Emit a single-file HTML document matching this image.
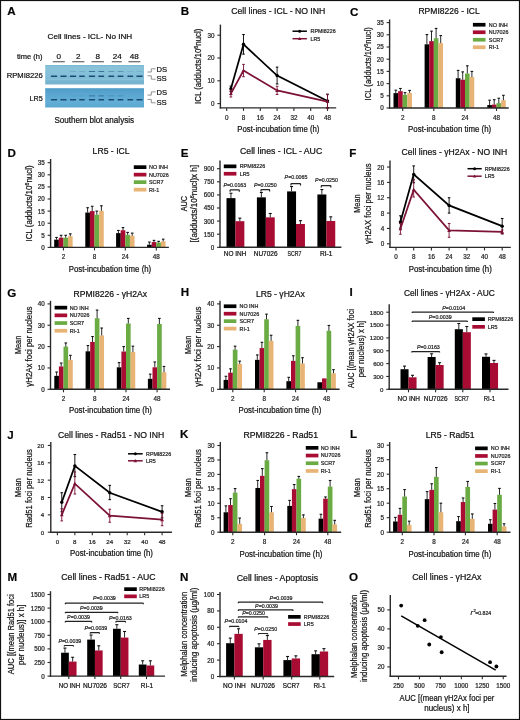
<!DOCTYPE html>
<html><head><meta charset="utf-8"><title>Figure</title>
<style>html,body{margin:0;padding:0;background:#fff;width:520px;height:720px;overflow:hidden}
svg{display:block;will-change:transform} text{font-family:"Liberation Sans",sans-serif;stroke:#2a2a2a;stroke-width:0.22px}</style></head>
<body>
<svg width="520" height="720" viewBox="0 0 520 720" font-family="Liberation Sans, sans-serif">
<rect x="0.00" y="0.00" width="520.00" height="720.00" fill="#ffffff"/>
<text x="7.30" y="15.20" font-size="11.6" font-weight="bold" fill="#000">A</text>
<text x="89.90" y="38.90" font-size="7.7" text-anchor="middle" textLength="84.60" lengthAdjust="spacingAndGlyphs">Cell lines - ICL- No INH</text>
<text x="17.00" y="58.90" font-size="7.5" textLength="25.40" lengthAdjust="spacingAndGlyphs">time (h)</text>
<text x="58.80" y="58.70" font-size="8.1" text-anchor="middle">0</text>
<text x="78.20" y="58.70" font-size="8.1" text-anchor="middle">2</text>
<text x="97.80" y="58.70" font-size="8.1" text-anchor="middle">8</text>
<text x="117.20" y="58.70" font-size="8.1" text-anchor="middle">24</text>
<text x="134.20" y="58.70" font-size="8.1" text-anchor="middle">48</text>
<line x1="52.80" y1="61.70" x2="64.80" y2="61.70" stroke="#666" stroke-width="1.2"/>
<line x1="72.20" y1="61.70" x2="84.40" y2="61.70" stroke="#666" stroke-width="1.2"/>
<line x1="91.60" y1="61.70" x2="103.90" y2="61.70" stroke="#666" stroke-width="1.2"/>
<line x1="111.80" y1="61.70" x2="121.80" y2="61.70" stroke="#666" stroke-width="1.2"/>
<line x1="128.40" y1="61.70" x2="140.40" y2="61.70" stroke="#666" stroke-width="1.2"/>
<defs><linearGradient id="bu" x1="0" y1="0" x2="0" y2="1"><stop offset="0" stop-color="#78b8d2"/><stop offset="0.1" stop-color="#88c3d9"/><stop offset="0.45" stop-color="#84c0d8"/><stop offset="0.7" stop-color="#7fbbd5"/><stop offset="0.75" stop-color="#88c2d9"/><stop offset="0.8" stop-color="#7ab6d1"/><stop offset="1" stop-color="#76b2cf"/></linearGradient><linearGradient id="bl" x1="0" y1="0" x2="0" y2="1"><stop offset="0" stop-color="#4e9cc8"/><stop offset="0.35" stop-color="#5ba7d1"/><stop offset="0.7" stop-color="#62aed6"/><stop offset="1" stop-color="#5aa7d0"/></linearGradient></defs>
<rect x="45.2" y="65.0" width="98.8" height="19.5" fill="url(#bu)"/>
<rect x="45.2" y="88.2" width="98.8" height="19.3" fill="url(#bl)"/>
<rect x="50.80" y="75.5" width="6.40" height="1.4" rx="0.6" fill="#1a4a72"/>
<rect x="50.80" y="99.1" width="6.40" height="1.35" rx="0.6" fill="#1b4b72"/>
<rect x="60.30" y="75.5" width="6.40" height="1.4" rx="0.6" fill="#1a4a72"/>
<rect x="60.30" y="99.1" width="6.40" height="1.35" rx="0.6" fill="#1b4b72"/>
<rect x="69.80" y="75.5" width="6.40" height="1.4" rx="0.6" fill="#1a4a72"/>
<rect x="69.80" y="99.1" width="6.40" height="1.35" rx="0.6" fill="#1b4b72"/>
<rect x="69.80" y="71.0" width="6.40" height="1.1" rx="0.5" fill="#1d5279" opacity="0.18"/>
<rect x="69.80" y="95.3" width="6.40" height="1.1" rx="0.5" fill="#1d5279" opacity="0.06"/>
<rect x="79.10" y="75.5" width="5.80" height="1.4" rx="0.6" fill="#1a4a72"/>
<rect x="79.10" y="99.1" width="5.80" height="1.35" rx="0.6" fill="#1b4b72"/>
<rect x="79.10" y="71.0" width="5.80" height="1.1" rx="0.5" fill="#1d5279" opacity="0.18"/>
<rect x="79.10" y="95.3" width="5.80" height="1.1" rx="0.5" fill="#1d5279" opacity="0.06"/>
<rect x="88.80" y="75.5" width="6.40" height="1.4" rx="0.6" fill="#1a4a72"/>
<rect x="88.80" y="99.1" width="6.40" height="1.35" rx="0.6" fill="#1b4b72"/>
<rect x="88.80" y="71.0" width="6.40" height="1.1" rx="0.5" fill="#1d5279" opacity="0.7"/>
<rect x="88.80" y="95.3" width="6.40" height="1.1" rx="0.5" fill="#1d5279" opacity="0.45"/>
<rect x="98.30" y="75.5" width="5.90" height="1.4" rx="0.6" fill="#1a4a72"/>
<rect x="98.30" y="99.1" width="5.90" height="1.35" rx="0.6" fill="#1b4b72"/>
<rect x="98.30" y="71.0" width="5.90" height="1.1" rx="0.5" fill="#1d5279" opacity="0.7"/>
<rect x="98.30" y="95.3" width="5.90" height="1.1" rx="0.5" fill="#1d5279" opacity="0.45"/>
<rect x="108.30" y="75.5" width="5.90" height="1.4" rx="0.6" fill="#1a4a72"/>
<rect x="108.30" y="99.1" width="5.90" height="1.35" rx="0.6" fill="#1b4b72"/>
<rect x="108.30" y="71.0" width="5.90" height="1.1" rx="0.5" fill="#1d5279" opacity="0.4"/>
<rect x="108.30" y="95.3" width="5.90" height="1.1" rx="0.5" fill="#1d5279" opacity="0.22"/>
<rect x="117.50" y="75.5" width="6.00" height="1.4" rx="0.6" fill="#1a4a72"/>
<rect x="117.50" y="99.1" width="6.00" height="1.35" rx="0.6" fill="#1b4b72"/>
<rect x="117.50" y="71.0" width="6.00" height="1.1" rx="0.5" fill="#1d5279" opacity="0.4"/>
<rect x="117.50" y="95.3" width="6.00" height="1.1" rx="0.5" fill="#1d5279" opacity="0.22"/>
<rect x="127.30" y="75.5" width="5.90" height="1.4" rx="0.6" fill="#1a4a72"/>
<rect x="127.30" y="99.1" width="5.90" height="1.35" rx="0.6" fill="#1b4b72"/>
<rect x="127.30" y="71.0" width="5.90" height="1.1" rx="0.5" fill="#1d5279" opacity="0.12"/>
<rect x="136.30" y="75.5" width="6.40" height="1.4" rx="0.6" fill="#1a4a72"/>
<rect x="136.30" y="99.1" width="6.40" height="1.35" rx="0.6" fill="#1b4b72"/>
<rect x="136.30" y="71.0" width="6.40" height="1.1" rx="0.5" fill="#1d5279" opacity="0.12"/>
<text x="42.80" y="77.80" font-size="7.9" text-anchor="end" textLength="36.10" lengthAdjust="spacingAndGlyphs">RPMI8226</text>
<text x="42.80" y="100.90" font-size="7.9" text-anchor="end" textLength="13.20" lengthAdjust="spacingAndGlyphs">LR5</text>
<polyline points="147.50,72.00 151.30,72.00 151.30,68.80 155.60,68.80" stroke="#777" stroke-width="0.8" fill="none" stroke-linejoin="miter"/>
<polyline points="147.50,75.80 151.30,75.80 151.30,79.20 155.60,79.20" stroke="#777" stroke-width="0.8" fill="none" stroke-linejoin="miter"/>
<text x="156.40" y="71.80" font-size="8.0" textLength="10.60" lengthAdjust="spacingAndGlyphs">DS</text>
<text x="156.40" y="81.10" font-size="8.0" textLength="10.40" lengthAdjust="spacingAndGlyphs">SS</text>
<polyline points="147.50,95.10 151.30,95.10 151.30,91.90 155.60,91.90" stroke="#777" stroke-width="0.8" fill="none" stroke-linejoin="miter"/>
<polyline points="147.50,99.40 151.30,99.40 151.30,102.80 155.60,102.80" stroke="#777" stroke-width="0.8" fill="none" stroke-linejoin="miter"/>
<text x="156.40" y="94.90" font-size="8.0" textLength="10.60" lengthAdjust="spacingAndGlyphs">DS</text>
<text x="156.40" y="104.70" font-size="8.0" textLength="10.40" lengthAdjust="spacingAndGlyphs">SS</text>
<text x="94.25" y="122.80" font-size="8.5" text-anchor="middle" textLength="79.70" lengthAdjust="spacingAndGlyphs">Southern blot analysis</text>
<text x="180.80" y="15.40" font-size="11.6" font-weight="bold" fill="#000">B</text>
<text x="278.25" y="14.20" font-size="8.6" text-anchor="middle" textLength="94.10" lengthAdjust="spacingAndGlyphs">Cell lines - ICL - NO INH</text>
<line x1="220.40" y1="24.60" x2="220.40" y2="108.55" stroke="#2a2a2a" stroke-width="1.4"/>
<line x1="217.40" y1="103.60" x2="220.40" y2="103.60" stroke="#2a2a2a" stroke-width="1.1"/>
<text x="214.60" y="106.06" font-size="6.3" text-anchor="end" fill="#222">0</text>
<line x1="217.40" y1="80.80" x2="220.40" y2="80.80" stroke="#2a2a2a" stroke-width="1.1"/>
<text x="214.60" y="83.26" font-size="6.3" text-anchor="end" fill="#222">10</text>
<line x1="217.40" y1="58.00" x2="220.40" y2="58.00" stroke="#2a2a2a" stroke-width="1.1"/>
<text x="214.60" y="60.46" font-size="6.3" text-anchor="end" fill="#222">20</text>
<line x1="217.40" y1="35.20" x2="220.40" y2="35.20" stroke="#2a2a2a" stroke-width="1.1"/>
<text x="214.60" y="37.66" font-size="6.3" text-anchor="end" fill="#222">30</text>
<line x1="219.70" y1="107.90" x2="336.20" y2="107.90" stroke="#2a2a2a" stroke-width="1.4"/>
<line x1="226.70" y1="107.90" x2="226.70" y2="110.90" stroke="#2a2a2a" stroke-width="1.1"/>
<text x="226.70" y="119.70" font-size="6.3" text-anchor="middle" fill="#222">0</text>
<line x1="243.50" y1="107.90" x2="243.50" y2="110.90" stroke="#2a2a2a" stroke-width="1.1"/>
<text x="243.50" y="119.70" font-size="6.3" text-anchor="middle" fill="#222">8</text>
<line x1="260.30" y1="107.90" x2="260.30" y2="110.90" stroke="#2a2a2a" stroke-width="1.1"/>
<text x="260.30" y="119.70" font-size="6.3" text-anchor="middle" fill="#222">16</text>
<line x1="277.10" y1="107.90" x2="277.10" y2="110.90" stroke="#2a2a2a" stroke-width="1.1"/>
<text x="277.10" y="119.70" font-size="6.3" text-anchor="middle" fill="#222">24</text>
<line x1="293.90" y1="107.90" x2="293.90" y2="110.90" stroke="#2a2a2a" stroke-width="1.1"/>
<text x="293.90" y="119.70" font-size="6.3" text-anchor="middle" fill="#222">32</text>
<line x1="310.70" y1="107.90" x2="310.70" y2="110.90" stroke="#2a2a2a" stroke-width="1.1"/>
<text x="310.70" y="119.70" font-size="6.3" text-anchor="middle" fill="#222">40</text>
<line x1="327.50" y1="107.90" x2="327.50" y2="110.90" stroke="#2a2a2a" stroke-width="1.1"/>
<text x="327.50" y="119.70" font-size="6.3" text-anchor="middle" fill="#222">48</text>
<line x1="230.90" y1="86.04" x2="230.90" y2="91.52" stroke="#000000" stroke-width="0.9"/>
<line x1="229.60" y1="86.04" x2="232.20" y2="86.04" stroke="#000000" stroke-width="1.0"/>
<line x1="229.60" y1="91.52" x2="232.20" y2="91.52" stroke="#000000" stroke-width="1.0"/>
<line x1="243.50" y1="34.52" x2="243.50" y2="54.12" stroke="#000000" stroke-width="0.9"/>
<line x1="242.20" y1="34.52" x2="244.80" y2="34.52" stroke="#000000" stroke-width="1.0"/>
<line x1="242.20" y1="54.12" x2="244.80" y2="54.12" stroke="#000000" stroke-width="1.0"/>
<line x1="277.10" y1="67.12" x2="277.10" y2="83.99" stroke="#000000" stroke-width="0.9"/>
<line x1="275.80" y1="67.12" x2="278.40" y2="67.12" stroke="#000000" stroke-width="1.0"/>
<line x1="275.80" y1="83.99" x2="278.40" y2="83.99" stroke="#000000" stroke-width="1.0"/>
<line x1="327.50" y1="94.14" x2="327.50" y2="107.82" stroke="#000000" stroke-width="0.9"/>
<line x1="326.20" y1="94.14" x2="328.80" y2="94.14" stroke="#000000" stroke-width="1.0"/>
<line x1="326.20" y1="107.82" x2="328.80" y2="107.82" stroke="#000000" stroke-width="1.0"/>
<polyline points="230.90,88.78 243.50,44.32 277.10,75.56 327.50,100.98" stroke="#000000" stroke-width="1.75" fill="none" stroke-linejoin="miter"/>
<circle cx="230.90" cy="88.78" r="1.7" fill="#000000"/>
<circle cx="243.50" cy="44.32" r="1.7" fill="#000000"/>
<circle cx="277.10" cy="75.56" r="1.7" fill="#000000"/>
<circle cx="327.50" cy="100.98" r="1.7" fill="#000000"/>
<line x1="230.90" y1="90.15" x2="230.90" y2="96.99" stroke="#7c1236" stroke-width="0.9"/>
<line x1="229.60" y1="90.15" x2="232.20" y2="90.15" stroke="#7c1236" stroke-width="1.0"/>
<line x1="229.60" y1="96.99" x2="232.20" y2="96.99" stroke="#7c1236" stroke-width="1.0"/>
<line x1="243.50" y1="64.38" x2="243.50" y2="76.70" stroke="#7c1236" stroke-width="0.9"/>
<line x1="242.20" y1="64.38" x2="244.80" y2="64.38" stroke="#7c1236" stroke-width="1.0"/>
<line x1="242.20" y1="76.70" x2="244.80" y2="76.70" stroke="#7c1236" stroke-width="1.0"/>
<line x1="277.10" y1="86.27" x2="277.10" y2="94.48" stroke="#7c1236" stroke-width="0.9"/>
<line x1="275.80" y1="86.27" x2="278.40" y2="86.27" stroke="#7c1236" stroke-width="1.0"/>
<line x1="275.80" y1="94.48" x2="278.40" y2="94.48" stroke="#7c1236" stroke-width="1.0"/>
<line x1="327.50" y1="94.71" x2="327.50" y2="108.39" stroke="#7c1236" stroke-width="0.9"/>
<line x1="326.20" y1="94.71" x2="328.80" y2="94.71" stroke="#7c1236" stroke-width="1.0"/>
<line x1="326.20" y1="108.39" x2="328.80" y2="108.39" stroke="#7c1236" stroke-width="1.0"/>
<polyline points="230.90,93.57 243.50,70.54 277.10,90.38 327.50,101.55" stroke="#7c1236" stroke-width="1.75" fill="none" stroke-linejoin="miter"/>
<polygon points="229.00,95.09 232.80,95.09 230.90,91.67" fill="#7c1236"/>
<polygon points="241.60,72.06 245.40,72.06 243.50,68.64" fill="#7c1236"/>
<polygon points="275.20,91.90 279.00,91.90 277.10,88.48" fill="#7c1236"/>
<polygon points="325.60,103.07 329.40,103.07 327.50,99.65" fill="#7c1236"/>
<line x1="292.50" y1="31.20" x2="306.90" y2="31.20" stroke="#000000" stroke-width="1.5"/>
<circle cx="299.70" cy="31.20" r="1.5" fill="#000000"/>
<text x="310.60" y="33.11" font-size="5.3" fill="#222">RPMI8226</text>
<line x1="292.50" y1="38.70" x2="306.90" y2="38.70" stroke="#7c1236" stroke-width="1.5"/>
<polygon points="298.00,40.06 301.40,40.06 299.70,37.00" fill="#7c1236"/>
<text x="310.60" y="40.61" font-size="5.3" fill="#222">LR5</text>
<text x="201.50" y="66.30" font-size="8.3" text-anchor="middle" transform="rotate(-90 201.50 66.30)" textLength="75.40" lengthAdjust="spacingAndGlyphs">ICL (adducts/10<tspan baseline-shift="super" font-size="5.6">6</tspan>nucl)</text>
<text x="278.35" y="131.60" font-size="8.3" text-anchor="middle" textLength="82.10" lengthAdjust="spacingAndGlyphs">Post-incubation time (h)</text>
<text x="350.00" y="15.60" font-size="11.6" font-weight="bold" fill="#000">C</text>
<text x="449.05" y="14.20" font-size="8.6" text-anchor="middle" textLength="61.30" lengthAdjust="spacingAndGlyphs">RPMI8226 - ICL</text>
<line x1="389.60" y1="19.50" x2="389.60" y2="108.65" stroke="#2a2a2a" stroke-width="1.4"/>
<line x1="386.60" y1="108.00" x2="389.60" y2="108.00" stroke="#2a2a2a" stroke-width="1.1"/>
<text x="383.80" y="110.46" font-size="6.3" text-anchor="end" fill="#222">0</text>
<line x1="386.60" y1="95.80" x2="389.60" y2="95.80" stroke="#2a2a2a" stroke-width="1.1"/>
<text x="383.80" y="98.26" font-size="6.3" text-anchor="end" fill="#222">5</text>
<line x1="386.60" y1="83.60" x2="389.60" y2="83.60" stroke="#2a2a2a" stroke-width="1.1"/>
<text x="383.80" y="86.06" font-size="6.3" text-anchor="end" fill="#222">10</text>
<line x1="386.60" y1="71.40" x2="389.60" y2="71.40" stroke="#2a2a2a" stroke-width="1.1"/>
<text x="383.80" y="73.86" font-size="6.3" text-anchor="end" fill="#222">15</text>
<line x1="386.60" y1="59.20" x2="389.60" y2="59.20" stroke="#2a2a2a" stroke-width="1.1"/>
<text x="383.80" y="61.66" font-size="6.3" text-anchor="end" fill="#222">20</text>
<line x1="386.60" y1="47.00" x2="389.60" y2="47.00" stroke="#2a2a2a" stroke-width="1.1"/>
<text x="383.80" y="49.46" font-size="6.3" text-anchor="end" fill="#222">25</text>
<line x1="386.60" y1="34.80" x2="389.60" y2="34.80" stroke="#2a2a2a" stroke-width="1.1"/>
<text x="383.80" y="37.26" font-size="6.3" text-anchor="end" fill="#222">30</text>
<line x1="386.60" y1="22.60" x2="389.60" y2="22.60" stroke="#2a2a2a" stroke-width="1.1"/>
<text x="383.80" y="25.06" font-size="6.3" text-anchor="end" fill="#222">35</text>
<rect x="393.50" y="93.12" width="4.65" height="14.88" fill="#000000"/>
<rect x="398.10" y="91.16" width="4.65" height="16.84" fill="#a80c32"/>
<rect x="402.70" y="94.82" width="4.65" height="13.18" fill="#6aab44"/>
<rect x="407.30" y="92.87" width="4.65" height="15.13" fill="#e8b475"/>
<line x1="395.80" y1="93.12" x2="395.80" y2="90.19" stroke="#111" stroke-width="0.9"/>
<line x1="394.50" y1="90.19" x2="397.10" y2="90.19" stroke="#111" stroke-width="1.1"/>
<line x1="400.40" y1="91.16" x2="400.40" y2="88.48" stroke="#111" stroke-width="0.9"/>
<line x1="399.10" y1="88.48" x2="401.70" y2="88.48" stroke="#111" stroke-width="1.1"/>
<line x1="405.00" y1="94.82" x2="405.00" y2="92.63" stroke="#111" stroke-width="0.9"/>
<line x1="403.70" y1="92.63" x2="406.30" y2="92.63" stroke="#111" stroke-width="1.1"/>
<line x1="409.60" y1="92.87" x2="409.60" y2="90.43" stroke="#111" stroke-width="0.9"/>
<line x1="408.30" y1="90.43" x2="410.90" y2="90.43" stroke="#111" stroke-width="1.1"/>
<rect x="424.60" y="44.32" width="4.65" height="63.68" fill="#000000"/>
<rect x="429.20" y="41.14" width="4.65" height="66.86" fill="#a80c32"/>
<rect x="433.80" y="38.22" width="4.65" height="69.78" fill="#6aab44"/>
<rect x="438.40" y="43.10" width="4.65" height="64.90" fill="#e8b475"/>
<line x1="426.90" y1="44.32" x2="426.90" y2="34.56" stroke="#111" stroke-width="0.9"/>
<line x1="425.60" y1="34.56" x2="428.20" y2="34.56" stroke="#111" stroke-width="1.1"/>
<line x1="431.50" y1="41.14" x2="431.50" y2="31.14" stroke="#111" stroke-width="0.9"/>
<line x1="430.20" y1="31.14" x2="432.80" y2="31.14" stroke="#111" stroke-width="1.1"/>
<line x1="436.10" y1="38.22" x2="436.10" y2="28.46" stroke="#111" stroke-width="0.9"/>
<line x1="434.80" y1="28.46" x2="437.40" y2="28.46" stroke="#111" stroke-width="1.1"/>
<line x1="440.70" y1="43.10" x2="440.70" y2="35.53" stroke="#111" stroke-width="0.9"/>
<line x1="439.40" y1="35.53" x2="442.00" y2="35.53" stroke="#111" stroke-width="1.1"/>
<rect x="455.80" y="78.23" width="4.65" height="29.77" fill="#000000"/>
<rect x="460.40" y="79.70" width="4.65" height="28.30" fill="#a80c32"/>
<rect x="465.00" y="73.60" width="4.65" height="34.40" fill="#6aab44"/>
<rect x="469.60" y="77.01" width="4.65" height="30.99" fill="#e8b475"/>
<line x1="458.10" y1="78.23" x2="458.10" y2="70.42" stroke="#111" stroke-width="0.9"/>
<line x1="456.80" y1="70.42" x2="459.40" y2="70.42" stroke="#111" stroke-width="1.1"/>
<line x1="462.70" y1="79.70" x2="462.70" y2="71.89" stroke="#111" stroke-width="0.9"/>
<line x1="461.40" y1="71.89" x2="464.00" y2="71.89" stroke="#111" stroke-width="1.1"/>
<line x1="467.30" y1="73.60" x2="467.30" y2="65.79" stroke="#111" stroke-width="0.9"/>
<line x1="466.00" y1="65.79" x2="468.60" y2="65.79" stroke="#111" stroke-width="1.1"/>
<line x1="471.90" y1="77.01" x2="471.90" y2="71.40" stroke="#111" stroke-width="0.9"/>
<line x1="470.60" y1="71.40" x2="473.20" y2="71.40" stroke="#111" stroke-width="1.1"/>
<rect x="487.30" y="105.07" width="4.65" height="2.93" fill="#000000"/>
<rect x="491.90" y="104.58" width="4.65" height="3.42" fill="#a80c32"/>
<rect x="496.50" y="103.12" width="4.65" height="4.88" fill="#6aab44"/>
<rect x="501.10" y="100.19" width="4.65" height="7.81" fill="#e8b475"/>
<line x1="489.60" y1="105.07" x2="489.60" y2="100.19" stroke="#111" stroke-width="0.9"/>
<line x1="488.30" y1="100.19" x2="490.90" y2="100.19" stroke="#111" stroke-width="1.1"/>
<line x1="494.20" y1="104.58" x2="494.20" y2="99.70" stroke="#111" stroke-width="0.9"/>
<line x1="492.90" y1="99.70" x2="495.50" y2="99.70" stroke="#111" stroke-width="1.1"/>
<line x1="498.80" y1="103.12" x2="498.80" y2="98.24" stroke="#111" stroke-width="0.9"/>
<line x1="497.50" y1="98.24" x2="500.10" y2="98.24" stroke="#111" stroke-width="1.1"/>
<line x1="503.40" y1="100.19" x2="503.40" y2="95.31" stroke="#111" stroke-width="0.9"/>
<line x1="502.10" y1="95.31" x2="504.70" y2="95.31" stroke="#111" stroke-width="1.1"/>
<line x1="388.90" y1="108.00" x2="508.80" y2="108.00" stroke="#2a2a2a" stroke-width="1.4"/>
<line x1="402.70" y1="108.00" x2="402.70" y2="111.00" stroke="#2a2a2a" stroke-width="1.1"/>
<text x="402.70" y="120.00" font-size="6.3" text-anchor="middle" fill="#222">2</text>
<line x1="433.80" y1="108.00" x2="433.80" y2="111.00" stroke="#2a2a2a" stroke-width="1.1"/>
<text x="433.80" y="120.00" font-size="6.3" text-anchor="middle" fill="#222">8</text>
<line x1="465.00" y1="108.00" x2="465.00" y2="111.00" stroke="#2a2a2a" stroke-width="1.1"/>
<text x="465.00" y="120.00" font-size="6.3" text-anchor="middle" fill="#222">24</text>
<line x1="496.50" y1="108.00" x2="496.50" y2="111.00" stroke="#2a2a2a" stroke-width="1.1"/>
<text x="496.50" y="120.00" font-size="6.3" text-anchor="middle" fill="#222">48</text>
<rect x="472.90" y="22.90" width="12.60" height="3.70" fill="#000000"/>
<text x="488.80" y="26.69" font-size="5.4" fill="#222">NO INH</text>
<rect x="472.90" y="30.40" width="12.60" height="3.70" fill="#a80c32"/>
<text x="488.80" y="34.19" font-size="5.4" fill="#222">NU7026</text>
<rect x="472.90" y="37.90" width="12.60" height="3.70" fill="#6aab44"/>
<text x="488.80" y="41.69" font-size="5.4" fill="#222">SCR7</text>
<rect x="472.90" y="45.40" width="12.60" height="3.70" fill="#e8b475"/>
<text x="488.80" y="49.19" font-size="5.4" fill="#222">RI-1</text>
<text x="371.00" y="63.80" font-size="8.3" text-anchor="middle" transform="rotate(-90 371.00 63.80)" textLength="73.20" lengthAdjust="spacingAndGlyphs">ICL (adducts/10<tspan baseline-shift="super" font-size="5.6">6</tspan>nucl)</text>
<text x="449.65" y="131.80" font-size="8.3" text-anchor="middle" textLength="83.10" lengthAdjust="spacingAndGlyphs">Post-incubation time (h)</text>
<text x="7.60" y="156.80" font-size="11.6" font-weight="bold" fill="#000">D</text>
<text x="111.10" y="153.80" font-size="8.6" text-anchor="middle" textLength="37.00" lengthAdjust="spacingAndGlyphs">LR5 - ICL</text>
<line x1="50.60" y1="159.00" x2="50.60" y2="248.05" stroke="#2a2a2a" stroke-width="1.4"/>
<line x1="47.60" y1="247.40" x2="50.60" y2="247.40" stroke="#2a2a2a" stroke-width="1.1"/>
<text x="44.80" y="249.86" font-size="6.3" text-anchor="end" fill="#222">0</text>
<line x1="47.60" y1="235.30" x2="50.60" y2="235.30" stroke="#2a2a2a" stroke-width="1.1"/>
<text x="44.80" y="237.76" font-size="6.3" text-anchor="end" fill="#222">5</text>
<line x1="47.60" y1="223.20" x2="50.60" y2="223.20" stroke="#2a2a2a" stroke-width="1.1"/>
<text x="44.80" y="225.66" font-size="6.3" text-anchor="end" fill="#222">10</text>
<line x1="47.60" y1="211.10" x2="50.60" y2="211.10" stroke="#2a2a2a" stroke-width="1.1"/>
<text x="44.80" y="213.56" font-size="6.3" text-anchor="end" fill="#222">15</text>
<line x1="47.60" y1="199.00" x2="50.60" y2="199.00" stroke="#2a2a2a" stroke-width="1.1"/>
<text x="44.80" y="201.46" font-size="6.3" text-anchor="end" fill="#222">20</text>
<line x1="47.60" y1="186.90" x2="50.60" y2="186.90" stroke="#2a2a2a" stroke-width="1.1"/>
<text x="44.80" y="189.36" font-size="6.3" text-anchor="end" fill="#222">25</text>
<line x1="47.60" y1="174.80" x2="50.60" y2="174.80" stroke="#2a2a2a" stroke-width="1.1"/>
<text x="44.80" y="177.26" font-size="6.3" text-anchor="end" fill="#222">30</text>
<line x1="47.60" y1="162.70" x2="50.60" y2="162.70" stroke="#2a2a2a" stroke-width="1.1"/>
<text x="44.80" y="165.16" font-size="6.3" text-anchor="end" fill="#222">35</text>
<rect x="54.20" y="239.66" width="4.65" height="7.74" fill="#000000"/>
<rect x="58.80" y="237.72" width="4.65" height="9.68" fill="#a80c32"/>
<rect x="63.40" y="237.72" width="4.65" height="9.68" fill="#6aab44"/>
<rect x="68.00" y="236.27" width="4.65" height="11.13" fill="#e8b475"/>
<line x1="56.50" y1="239.66" x2="56.50" y2="237.48" stroke="#111" stroke-width="0.9"/>
<line x1="55.20" y1="237.48" x2="57.80" y2="237.48" stroke="#111" stroke-width="1.1"/>
<line x1="61.10" y1="237.72" x2="61.10" y2="235.30" stroke="#111" stroke-width="0.9"/>
<line x1="59.80" y1="235.30" x2="62.40" y2="235.30" stroke="#111" stroke-width="1.1"/>
<line x1="65.70" y1="237.72" x2="65.70" y2="235.30" stroke="#111" stroke-width="0.9"/>
<line x1="64.40" y1="235.30" x2="67.00" y2="235.30" stroke="#111" stroke-width="1.1"/>
<line x1="70.30" y1="236.27" x2="70.30" y2="233.85" stroke="#111" stroke-width="0.9"/>
<line x1="69.00" y1="233.85" x2="71.60" y2="233.85" stroke="#111" stroke-width="1.1"/>
<rect x="85.30" y="212.55" width="4.65" height="34.85" fill="#000000"/>
<rect x="89.90" y="211.10" width="4.65" height="36.30" fill="#a80c32"/>
<rect x="94.50" y="214.73" width="4.65" height="32.67" fill="#6aab44"/>
<rect x="99.10" y="210.86" width="4.65" height="36.54" fill="#e8b475"/>
<line x1="87.60" y1="212.55" x2="87.60" y2="207.71" stroke="#111" stroke-width="0.9"/>
<line x1="86.30" y1="207.71" x2="88.90" y2="207.71" stroke="#111" stroke-width="1.1"/>
<line x1="92.20" y1="211.10" x2="92.20" y2="206.26" stroke="#111" stroke-width="0.9"/>
<line x1="90.90" y1="206.26" x2="93.50" y2="206.26" stroke="#111" stroke-width="1.1"/>
<line x1="96.80" y1="214.73" x2="96.80" y2="211.10" stroke="#111" stroke-width="0.9"/>
<line x1="95.50" y1="211.10" x2="98.10" y2="211.10" stroke="#111" stroke-width="1.1"/>
<line x1="101.40" y1="210.86" x2="101.40" y2="205.78" stroke="#111" stroke-width="0.9"/>
<line x1="100.10" y1="205.78" x2="102.70" y2="205.78" stroke="#111" stroke-width="1.1"/>
<rect x="116.10" y="233.12" width="4.65" height="14.28" fill="#000000"/>
<rect x="120.70" y="230.22" width="4.65" height="17.18" fill="#a80c32"/>
<rect x="125.30" y="234.82" width="4.65" height="12.58" fill="#6aab44"/>
<rect x="129.90" y="235.78" width="4.65" height="11.62" fill="#e8b475"/>
<line x1="118.40" y1="233.12" x2="118.40" y2="230.46" stroke="#111" stroke-width="0.9"/>
<line x1="117.10" y1="230.46" x2="119.70" y2="230.46" stroke="#111" stroke-width="1.1"/>
<line x1="123.00" y1="230.22" x2="123.00" y2="227.56" stroke="#111" stroke-width="0.9"/>
<line x1="121.70" y1="227.56" x2="124.30" y2="227.56" stroke="#111" stroke-width="1.1"/>
<line x1="127.60" y1="234.82" x2="127.60" y2="232.40" stroke="#111" stroke-width="0.9"/>
<line x1="126.30" y1="232.40" x2="128.90" y2="232.40" stroke="#111" stroke-width="1.1"/>
<line x1="132.20" y1="235.78" x2="132.20" y2="233.12" stroke="#111" stroke-width="0.9"/>
<line x1="130.90" y1="233.12" x2="133.50" y2="233.12" stroke="#111" stroke-width="1.1"/>
<rect x="147.10" y="244.74" width="4.65" height="2.66" fill="#000000"/>
<rect x="151.70" y="242.08" width="4.65" height="5.32" fill="#a80c32"/>
<rect x="156.30" y="242.56" width="4.65" height="4.84" fill="#6aab44"/>
<rect x="160.90" y="241.35" width="4.65" height="6.05" fill="#e8b475"/>
<line x1="149.40" y1="244.74" x2="149.40" y2="242.08" stroke="#111" stroke-width="0.9"/>
<line x1="148.10" y1="242.08" x2="150.70" y2="242.08" stroke="#111" stroke-width="1.1"/>
<line x1="154.00" y1="242.08" x2="154.00" y2="240.38" stroke="#111" stroke-width="0.9"/>
<line x1="152.70" y1="240.38" x2="155.30" y2="240.38" stroke="#111" stroke-width="1.1"/>
<line x1="158.60" y1="242.56" x2="158.60" y2="241.35" stroke="#111" stroke-width="0.9"/>
<line x1="157.30" y1="241.35" x2="159.90" y2="241.35" stroke="#111" stroke-width="1.1"/>
<line x1="163.20" y1="241.35" x2="163.20" y2="239.17" stroke="#111" stroke-width="0.9"/>
<line x1="161.90" y1="239.17" x2="164.50" y2="239.17" stroke="#111" stroke-width="1.1"/>
<line x1="49.90" y1="247.40" x2="168.90" y2="247.40" stroke="#2a2a2a" stroke-width="1.4"/>
<line x1="63.40" y1="247.40" x2="63.40" y2="250.40" stroke="#2a2a2a" stroke-width="1.1"/>
<text x="63.40" y="259.40" font-size="6.3" text-anchor="middle" fill="#222">2</text>
<line x1="94.50" y1="247.40" x2="94.50" y2="250.40" stroke="#2a2a2a" stroke-width="1.1"/>
<text x="94.50" y="259.40" font-size="6.3" text-anchor="middle" fill="#222">8</text>
<line x1="125.30" y1="247.40" x2="125.30" y2="250.40" stroke="#2a2a2a" stroke-width="1.1"/>
<text x="125.30" y="259.40" font-size="6.3" text-anchor="middle" fill="#222">24</text>
<line x1="156.30" y1="247.40" x2="156.30" y2="250.40" stroke="#2a2a2a" stroke-width="1.1"/>
<text x="156.30" y="259.40" font-size="6.3" text-anchor="middle" fill="#222">48</text>
<rect x="133.80" y="165.30" width="12.60" height="3.70" fill="#000000"/>
<text x="149.00" y="169.09" font-size="5.4" fill="#222">NO INH</text>
<rect x="133.80" y="172.80" width="12.60" height="3.70" fill="#a80c32"/>
<text x="149.00" y="176.59" font-size="5.4" fill="#222">NU7026</text>
<rect x="133.80" y="180.30" width="12.60" height="3.70" fill="#6aab44"/>
<text x="149.00" y="184.09" font-size="5.4" fill="#222">SCR7</text>
<rect x="133.80" y="187.80" width="12.60" height="3.70" fill="#e8b475"/>
<text x="149.00" y="191.59" font-size="5.4" fill="#222">RI-1</text>
<text x="31.70" y="203.40" font-size="8.3" text-anchor="middle" transform="rotate(-90 31.70 203.40)" textLength="76.10" lengthAdjust="spacingAndGlyphs">ICL (adducts/10<tspan baseline-shift="super" font-size="5.6">6</tspan>nucl)</text>
<text x="109.95" y="271.50" font-size="8.3" text-anchor="middle" textLength="82.50" lengthAdjust="spacingAndGlyphs">Post-incubation time (h)</text>
<text x="180.80" y="157.00" font-size="11.6" font-weight="bold" fill="#000">E</text>
<text x="281.10" y="153.80" font-size="8.6" text-anchor="middle" textLength="82.20" lengthAdjust="spacingAndGlyphs">Cell lines - ICL - AUC</text>
<line x1="220.00" y1="160.40" x2="220.00" y2="247.95" stroke="#2a2a2a" stroke-width="1.4"/>
<line x1="217.00" y1="247.30" x2="220.00" y2="247.30" stroke="#2a2a2a" stroke-width="1.1"/>
<text x="214.20" y="249.76" font-size="6.3" text-anchor="end" fill="#222">0</text>
<line x1="217.00" y1="234.20" x2="220.00" y2="234.20" stroke="#2a2a2a" stroke-width="1.1"/>
<text x="214.20" y="236.66" font-size="6.3" text-anchor="end" fill="#222">150</text>
<line x1="217.00" y1="221.10" x2="220.00" y2="221.10" stroke="#2a2a2a" stroke-width="1.1"/>
<text x="214.20" y="223.56" font-size="6.3" text-anchor="end" fill="#222">300</text>
<line x1="217.00" y1="208.00" x2="220.00" y2="208.00" stroke="#2a2a2a" stroke-width="1.1"/>
<text x="214.20" y="210.46" font-size="6.3" text-anchor="end" fill="#222">450</text>
<line x1="217.00" y1="194.90" x2="220.00" y2="194.90" stroke="#2a2a2a" stroke-width="1.1"/>
<text x="214.20" y="197.36" font-size="6.3" text-anchor="end" fill="#222">600</text>
<line x1="217.00" y1="181.80" x2="220.00" y2="181.80" stroke="#2a2a2a" stroke-width="1.1"/>
<text x="214.20" y="184.26" font-size="6.3" text-anchor="end" fill="#222">750</text>
<line x1="217.00" y1="168.70" x2="220.00" y2="168.70" stroke="#2a2a2a" stroke-width="1.1"/>
<text x="214.20" y="171.16" font-size="6.3" text-anchor="end" fill="#222">900</text>
<rect x="226.50" y="198.13" width="8.95" height="49.17" fill="#000000"/>
<rect x="235.40" y="221.19" width="8.95" height="26.11" fill="#a80c32"/>
<line x1="230.95" y1="198.13" x2="230.95" y2="193.24" stroke="#111" stroke-width="0.9"/>
<line x1="229.45" y1="193.24" x2="232.45" y2="193.24" stroke="#111" stroke-width="1.1"/>
<line x1="239.85" y1="221.19" x2="239.85" y2="218.13" stroke="#111" stroke-width="0.9"/>
<line x1="238.35" y1="218.13" x2="241.35" y2="218.13" stroke="#111" stroke-width="1.1"/>
<rect x="256.90" y="197.35" width="8.95" height="49.95" fill="#000000"/>
<rect x="265.80" y="217.34" width="8.95" height="29.96" fill="#a80c32"/>
<line x1="261.35" y1="197.35" x2="261.35" y2="192.45" stroke="#111" stroke-width="0.9"/>
<line x1="259.85" y1="192.45" x2="262.85" y2="192.45" stroke="#111" stroke-width="1.1"/>
<line x1="270.25" y1="217.34" x2="270.25" y2="213.50" stroke="#111" stroke-width="0.9"/>
<line x1="268.75" y1="213.50" x2="271.75" y2="213.50" stroke="#111" stroke-width="1.1"/>
<rect x="287.10" y="191.41" width="8.95" height="55.89" fill="#000000"/>
<rect x="296.00" y="223.98" width="8.95" height="23.32" fill="#a80c32"/>
<line x1="291.55" y1="191.41" x2="291.55" y2="186.52" stroke="#111" stroke-width="0.9"/>
<line x1="290.05" y1="186.52" x2="293.05" y2="186.52" stroke="#111" stroke-width="1.1"/>
<line x1="300.45" y1="223.98" x2="300.45" y2="220.66" stroke="#111" stroke-width="0.9"/>
<line x1="298.95" y1="220.66" x2="301.95" y2="220.66" stroke="#111" stroke-width="1.1"/>
<rect x="317.40" y="194.46" width="8.95" height="52.84" fill="#000000"/>
<rect x="326.30" y="221.01" width="8.95" height="26.29" fill="#a80c32"/>
<line x1="321.85" y1="194.46" x2="321.85" y2="189.57" stroke="#111" stroke-width="0.9"/>
<line x1="320.35" y1="189.57" x2="323.35" y2="189.57" stroke="#111" stroke-width="1.1"/>
<line x1="330.75" y1="221.01" x2="330.75" y2="216.82" stroke="#111" stroke-width="0.9"/>
<line x1="329.25" y1="216.82" x2="332.25" y2="216.82" stroke="#111" stroke-width="1.1"/>
<line x1="219.30" y1="247.30" x2="341.40" y2="247.30" stroke="#2a2a2a" stroke-width="1.4"/>
<text x="235.05" y="255.60" font-size="6.4" text-anchor="middle" textLength="22.50" lengthAdjust="spacingAndGlyphs">NO INH</text>
<text x="265.65" y="255.60" font-size="6.4" text-anchor="middle" textLength="23.70" lengthAdjust="spacingAndGlyphs">NU7026</text>
<text x="294.40" y="255.60" font-size="6.4" text-anchor="middle" textLength="13.80" lengthAdjust="spacingAndGlyphs">SCR7</text>
<text x="326.25" y="255.60" font-size="6.4" text-anchor="middle" textLength="12.50" lengthAdjust="spacingAndGlyphs">RI-1</text>
<rect x="223.80" y="164.50" width="12.60" height="3.70" fill="#000000"/>
<text x="239.70" y="168.29" font-size="5.4" fill="#222">RPMI8226</text>
<rect x="223.80" y="171.90" width="12.60" height="3.70" fill="#a80c32"/>
<text x="239.70" y="175.69" font-size="5.4" fill="#222">LR5</text>
<path d="M230.10,191.70 L230.10,190.30 Q230.10,189.80 230.60,189.80 L238.80,189.80 Q239.30,189.80 239.30,190.30 L239.30,191.70" stroke="#222" stroke-width="1.2" fill="none"/>
<text x="234.80" y="187.20" font-size="5.3" text-anchor="middle" fill="#222"><tspan font-style="italic">P</tspan>=0.0163</text>
<path d="M261.00,191.50 L261.00,190.10 Q261.00,189.60 261.50,189.60 L269.10,189.60 Q269.60,189.60 269.60,190.10 L269.60,191.50" stroke="#222" stroke-width="1.2" fill="none"/>
<text x="265.30" y="187.00" font-size="5.3" text-anchor="middle" fill="#222"><tspan font-style="italic">P</tspan>=0.0250</text>
<path d="M291.00,185.50 L291.00,184.10 Q291.00,183.60 291.50,183.60 L300.00,183.60 Q300.50,183.60 300.50,184.10 L300.50,185.50" stroke="#222" stroke-width="1.2" fill="none"/>
<text x="296.00" y="179.40" font-size="5.3" text-anchor="middle" fill="#222"><tspan font-style="italic">P</tspan>=0.0065</text>
<path d="M321.30,187.50 L321.30,186.10 Q321.30,185.60 321.80,185.60 L330.30,185.60 Q330.80,185.60 330.80,186.10 L330.80,187.50" stroke="#222" stroke-width="1.2" fill="none"/>
<text x="326.50" y="182.30" font-size="5.3" text-anchor="middle" fill="#222"><tspan font-style="italic">P</tspan>=0.0250</text>
<text x="187.00" y="203.70" font-size="8.3" text-anchor="middle" transform="rotate(-90 187.00 203.70)" textLength="15.30" lengthAdjust="spacingAndGlyphs">AUC</text>
<text x="197.30" y="203.70" font-size="8.3" text-anchor="middle" transform="rotate(-90 197.30 203.70)" textLength="77.50" lengthAdjust="spacingAndGlyphs">[(adducts/10<tspan baseline-shift="super" font-size="5.6">6</tspan>nucl)x h]</text>
<text x="349.30" y="156.60" font-size="11.6" font-weight="bold" fill="#000">F</text>
<text x="454.45" y="154.80" font-size="8.6" text-anchor="middle" textLength="105.70" lengthAdjust="spacingAndGlyphs">Cell lines - γH2Ax - NO INH</text>
<line x1="390.00" y1="160.40" x2="390.00" y2="248.05" stroke="#2a2a2a" stroke-width="1.4"/>
<line x1="387.00" y1="243.80" x2="390.00" y2="243.80" stroke="#2a2a2a" stroke-width="1.1"/>
<text x="384.20" y="246.26" font-size="6.3" text-anchor="end" fill="#222">0</text>
<line x1="387.00" y1="228.45" x2="390.00" y2="228.45" stroke="#2a2a2a" stroke-width="1.1"/>
<text x="384.20" y="230.91" font-size="6.3" text-anchor="end" fill="#222">4</text>
<line x1="387.00" y1="213.10" x2="390.00" y2="213.10" stroke="#2a2a2a" stroke-width="1.1"/>
<text x="384.20" y="215.56" font-size="6.3" text-anchor="end" fill="#222">8</text>
<line x1="387.00" y1="197.75" x2="390.00" y2="197.75" stroke="#2a2a2a" stroke-width="1.1"/>
<text x="384.20" y="200.21" font-size="6.3" text-anchor="end" fill="#222">12</text>
<line x1="387.00" y1="182.40" x2="390.00" y2="182.40" stroke="#2a2a2a" stroke-width="1.1"/>
<text x="384.20" y="184.86" font-size="6.3" text-anchor="end" fill="#222">16</text>
<line x1="387.00" y1="167.05" x2="390.00" y2="167.05" stroke="#2a2a2a" stroke-width="1.1"/>
<text x="384.20" y="169.51" font-size="6.3" text-anchor="end" fill="#222">20</text>
<line x1="389.30" y1="247.40" x2="510.80" y2="247.40" stroke="#2a2a2a" stroke-width="1.4"/>
<line x1="396.00" y1="247.40" x2="396.00" y2="250.40" stroke="#2a2a2a" stroke-width="1.1"/>
<text x="396.00" y="259.20" font-size="6.3" text-anchor="middle" fill="#222">0</text>
<line x1="413.70" y1="247.40" x2="413.70" y2="250.40" stroke="#2a2a2a" stroke-width="1.1"/>
<text x="413.70" y="259.20" font-size="6.3" text-anchor="middle" fill="#222">8</text>
<line x1="431.40" y1="247.40" x2="431.40" y2="250.40" stroke="#2a2a2a" stroke-width="1.1"/>
<text x="431.40" y="259.20" font-size="6.3" text-anchor="middle" fill="#222">16</text>
<line x1="449.10" y1="247.40" x2="449.10" y2="250.40" stroke="#2a2a2a" stroke-width="1.1"/>
<text x="449.10" y="259.20" font-size="6.3" text-anchor="middle" fill="#222">24</text>
<line x1="466.80" y1="247.40" x2="466.80" y2="250.40" stroke="#2a2a2a" stroke-width="1.1"/>
<text x="466.80" y="259.20" font-size="6.3" text-anchor="middle" fill="#222">32</text>
<line x1="484.50" y1="247.40" x2="484.50" y2="250.40" stroke="#2a2a2a" stroke-width="1.1"/>
<text x="484.50" y="259.20" font-size="6.3" text-anchor="middle" fill="#222">40</text>
<line x1="502.20" y1="247.40" x2="502.20" y2="250.40" stroke="#2a2a2a" stroke-width="1.1"/>
<text x="502.20" y="259.20" font-size="6.3" text-anchor="middle" fill="#222">48</text>
<line x1="400.43" y1="215.79" x2="400.43" y2="228.07" stroke="#000000" stroke-width="0.9"/>
<line x1="399.12" y1="215.79" x2="401.73" y2="215.79" stroke="#000000" stroke-width="1.0"/>
<line x1="399.12" y1="228.07" x2="401.73" y2="228.07" stroke="#000000" stroke-width="1.0"/>
<line x1="413.70" y1="165.90" x2="413.70" y2="182.78" stroke="#000000" stroke-width="0.9"/>
<line x1="412.40" y1="165.90" x2="415.00" y2="165.90" stroke="#000000" stroke-width="1.0"/>
<line x1="412.40" y1="182.78" x2="415.00" y2="182.78" stroke="#000000" stroke-width="1.0"/>
<line x1="449.10" y1="197.75" x2="449.10" y2="213.10" stroke="#000000" stroke-width="0.9"/>
<line x1="447.80" y1="197.75" x2="450.40" y2="197.75" stroke="#000000" stroke-width="1.0"/>
<line x1="447.80" y1="213.10" x2="450.40" y2="213.10" stroke="#000000" stroke-width="1.0"/>
<line x1="502.20" y1="218.47" x2="502.20" y2="233.82" stroke="#000000" stroke-width="0.9"/>
<line x1="500.90" y1="218.47" x2="503.50" y2="218.47" stroke="#000000" stroke-width="1.0"/>
<line x1="500.90" y1="233.82" x2="503.50" y2="233.82" stroke="#000000" stroke-width="1.0"/>
<polyline points="400.43,221.93 413.70,174.34 449.10,205.43 502.20,226.15" stroke="#000000" stroke-width="1.75" fill="none" stroke-linejoin="miter"/>
<circle cx="400.43" cy="221.93" r="1.7" fill="#000000"/>
<circle cx="413.70" cy="174.34" r="1.7" fill="#000000"/>
<circle cx="449.10" cy="205.43" r="1.7" fill="#000000"/>
<circle cx="502.20" cy="226.15" r="1.7" fill="#000000"/>
<line x1="400.43" y1="223.46" x2="400.43" y2="234.21" stroke="#7c1236" stroke-width="0.9"/>
<line x1="399.12" y1="223.46" x2="401.73" y2="223.46" stroke="#7c1236" stroke-width="1.0"/>
<line x1="399.12" y1="234.21" x2="401.73" y2="234.21" stroke="#7c1236" stroke-width="1.0"/>
<line x1="413.70" y1="179.71" x2="413.70" y2="196.98" stroke="#7c1236" stroke-width="0.9"/>
<line x1="412.40" y1="179.71" x2="415.00" y2="179.71" stroke="#7c1236" stroke-width="1.0"/>
<line x1="412.40" y1="196.98" x2="415.00" y2="196.98" stroke="#7c1236" stroke-width="1.0"/>
<line x1="449.10" y1="223.46" x2="449.10" y2="237.28" stroke="#7c1236" stroke-width="0.9"/>
<line x1="447.80" y1="223.46" x2="450.40" y2="223.46" stroke="#7c1236" stroke-width="1.0"/>
<line x1="447.80" y1="237.28" x2="450.40" y2="237.28" stroke="#7c1236" stroke-width="1.0"/>
<line x1="502.20" y1="229.99" x2="502.20" y2="233.82" stroke="#7c1236" stroke-width="0.9"/>
<line x1="500.90" y1="229.99" x2="503.50" y2="229.99" stroke="#7c1236" stroke-width="1.0"/>
<line x1="500.90" y1="233.82" x2="503.50" y2="233.82" stroke="#7c1236" stroke-width="1.0"/>
<polyline points="400.43,228.83 413.70,189.69 449.10,230.37 502.20,231.90" stroke="#7c1236" stroke-width="1.75" fill="none" stroke-linejoin="miter"/>
<polygon points="398.53,230.35 402.32,230.35 400.43,226.93" fill="#7c1236"/>
<polygon points="411.80,191.21 415.60,191.21 413.70,187.79" fill="#7c1236"/>
<polygon points="447.20,231.89 451.00,231.89 449.10,228.47" fill="#7c1236"/>
<polygon points="500.30,233.42 504.10,233.42 502.20,230.00" fill="#7c1236"/>
<line x1="467.50" y1="168.70" x2="481.70" y2="168.70" stroke="#000000" stroke-width="1.5"/>
<circle cx="474.60" cy="168.70" r="1.5" fill="#000000"/>
<text x="484.70" y="170.61" font-size="5.3" fill="#222">RPMI8226</text>
<line x1="467.50" y1="176.20" x2="481.70" y2="176.20" stroke="#7c1236" stroke-width="1.5"/>
<polygon points="472.90,177.56 476.30,177.56 474.60,174.50" fill="#7c1236"/>
<text x="484.70" y="178.11" font-size="5.3" fill="#222">LR5</text>
<text x="360.10" y="203.60" font-size="8.3" text-anchor="middle" transform="rotate(-90 360.10 203.60)" textLength="18.40" lengthAdjust="spacingAndGlyphs">Mean</text>
<text x="370.80" y="203.60" font-size="8.3" text-anchor="middle" transform="rotate(-90 370.80 203.60)" textLength="80.70" lengthAdjust="spacingAndGlyphs">γH2AX foci per nucleus</text>
<text x="450.25" y="271.50" font-size="8.3" text-anchor="middle" textLength="83.10" lengthAdjust="spacingAndGlyphs">Post-incubation time (h)</text>
<text x="7.20" y="296.60" font-size="11.6" font-weight="bold" fill="#000">G</text>
<text x="110.25" y="296.60" font-size="8.6" text-anchor="middle" textLength="73.50" lengthAdjust="spacingAndGlyphs">RPMI8226 - γH2Ax</text>
<line x1="50.50" y1="300.80" x2="50.50" y2="389.95" stroke="#2a2a2a" stroke-width="1.4"/>
<line x1="47.50" y1="389.30" x2="50.50" y2="389.30" stroke="#2a2a2a" stroke-width="1.1"/>
<text x="44.70" y="391.76" font-size="6.3" text-anchor="end" fill="#222">0</text>
<line x1="47.50" y1="367.95" x2="50.50" y2="367.95" stroke="#2a2a2a" stroke-width="1.1"/>
<text x="44.70" y="370.41" font-size="6.3" text-anchor="end" fill="#222">10</text>
<line x1="47.50" y1="346.60" x2="50.50" y2="346.60" stroke="#2a2a2a" stroke-width="1.1"/>
<text x="44.70" y="349.06" font-size="6.3" text-anchor="end" fill="#222">20</text>
<line x1="47.50" y1="325.25" x2="50.50" y2="325.25" stroke="#2a2a2a" stroke-width="1.1"/>
<text x="44.70" y="327.71" font-size="6.3" text-anchor="end" fill="#222">30</text>
<line x1="47.50" y1="303.90" x2="50.50" y2="303.90" stroke="#2a2a2a" stroke-width="1.1"/>
<text x="44.70" y="306.36" font-size="6.3" text-anchor="end" fill="#222">40</text>
<rect x="54.30" y="375.85" width="4.65" height="13.45" fill="#000000"/>
<rect x="58.90" y="366.46" width="4.65" height="22.84" fill="#a80c32"/>
<rect x="63.50" y="346.60" width="4.65" height="42.70" fill="#6aab44"/>
<rect x="68.10" y="359.84" width="4.65" height="29.46" fill="#e8b475"/>
<line x1="56.60" y1="375.85" x2="56.60" y2="372.01" stroke="#111" stroke-width="0.9"/>
<line x1="55.30" y1="372.01" x2="57.90" y2="372.01" stroke="#111" stroke-width="1.1"/>
<line x1="61.20" y1="366.46" x2="61.20" y2="363.04" stroke="#111" stroke-width="0.9"/>
<line x1="59.90" y1="363.04" x2="62.50" y2="363.04" stroke="#111" stroke-width="1.1"/>
<line x1="65.80" y1="346.60" x2="65.80" y2="342.97" stroke="#111" stroke-width="0.9"/>
<line x1="64.50" y1="342.97" x2="67.10" y2="342.97" stroke="#111" stroke-width="1.1"/>
<line x1="70.40" y1="359.84" x2="70.40" y2="355.35" stroke="#111" stroke-width="0.9"/>
<line x1="69.10" y1="355.35" x2="71.70" y2="355.35" stroke="#111" stroke-width="1.1"/>
<rect x="85.60" y="351.30" width="4.65" height="38.00" fill="#000000"/>
<rect x="90.20" y="341.90" width="4.65" height="47.40" fill="#a80c32"/>
<rect x="94.80" y="318.20" width="4.65" height="71.10" fill="#6aab44"/>
<rect x="99.40" y="335.50" width="4.65" height="53.80" fill="#e8b475"/>
<line x1="87.90" y1="351.30" x2="87.90" y2="345.53" stroke="#111" stroke-width="0.9"/>
<line x1="86.60" y1="345.53" x2="89.20" y2="345.53" stroke="#111" stroke-width="1.1"/>
<line x1="92.50" y1="341.90" x2="92.50" y2="336.57" stroke="#111" stroke-width="0.9"/>
<line x1="91.20" y1="336.57" x2="93.80" y2="336.57" stroke="#111" stroke-width="1.1"/>
<line x1="97.10" y1="318.20" x2="97.10" y2="310.09" stroke="#111" stroke-width="0.9"/>
<line x1="95.80" y1="310.09" x2="98.40" y2="310.09" stroke="#111" stroke-width="1.1"/>
<line x1="101.70" y1="335.50" x2="101.70" y2="328.03" stroke="#111" stroke-width="0.9"/>
<line x1="100.40" y1="328.03" x2="103.00" y2="328.03" stroke="#111" stroke-width="1.1"/>
<rect x="116.80" y="367.31" width="4.65" height="21.99" fill="#000000"/>
<rect x="121.40" y="351.51" width="4.65" height="37.79" fill="#a80c32"/>
<rect x="126.00" y="323.54" width="4.65" height="65.76" fill="#6aab44"/>
<rect x="130.60" y="351.94" width="4.65" height="37.36" fill="#e8b475"/>
<line x1="119.10" y1="367.31" x2="119.10" y2="362.61" stroke="#111" stroke-width="0.9"/>
<line x1="117.80" y1="362.61" x2="120.40" y2="362.61" stroke="#111" stroke-width="1.1"/>
<line x1="123.70" y1="351.51" x2="123.70" y2="346.60" stroke="#111" stroke-width="0.9"/>
<line x1="122.40" y1="346.60" x2="125.00" y2="346.60" stroke="#111" stroke-width="1.1"/>
<line x1="128.30" y1="323.54" x2="128.30" y2="318.42" stroke="#111" stroke-width="0.9"/>
<line x1="127.00" y1="318.42" x2="129.60" y2="318.42" stroke="#111" stroke-width="1.1"/>
<line x1="132.90" y1="351.94" x2="132.90" y2="346.17" stroke="#111" stroke-width="0.9"/>
<line x1="131.60" y1="346.17" x2="134.20" y2="346.17" stroke="#111" stroke-width="1.1"/>
<rect x="147.90" y="378.84" width="4.65" height="10.46" fill="#000000"/>
<rect x="152.50" y="367.31" width="4.65" height="21.99" fill="#a80c32"/>
<rect x="157.10" y="323.97" width="4.65" height="65.33" fill="#6aab44"/>
<rect x="161.70" y="372.22" width="4.65" height="17.08" fill="#e8b475"/>
<line x1="150.20" y1="378.84" x2="150.20" y2="374.14" stroke="#111" stroke-width="0.9"/>
<line x1="148.90" y1="374.14" x2="151.50" y2="374.14" stroke="#111" stroke-width="1.1"/>
<line x1="154.80" y1="367.31" x2="154.80" y2="361.97" stroke="#111" stroke-width="0.9"/>
<line x1="153.50" y1="361.97" x2="156.10" y2="361.97" stroke="#111" stroke-width="1.1"/>
<line x1="159.40" y1="323.97" x2="159.40" y2="318.42" stroke="#111" stroke-width="0.9"/>
<line x1="158.10" y1="318.42" x2="160.70" y2="318.42" stroke="#111" stroke-width="1.1"/>
<line x1="164.00" y1="372.22" x2="164.00" y2="366.46" stroke="#111" stroke-width="0.9"/>
<line x1="162.70" y1="366.46" x2="165.30" y2="366.46" stroke="#111" stroke-width="1.1"/>
<line x1="49.80" y1="389.30" x2="170.00" y2="389.30" stroke="#2a2a2a" stroke-width="1.4"/>
<line x1="63.50" y1="389.30" x2="63.50" y2="392.30" stroke="#2a2a2a" stroke-width="1.1"/>
<text x="63.50" y="401.30" font-size="6.3" text-anchor="middle" fill="#222">2</text>
<line x1="94.80" y1="389.30" x2="94.80" y2="392.30" stroke="#2a2a2a" stroke-width="1.1"/>
<text x="94.80" y="401.30" font-size="6.3" text-anchor="middle" fill="#222">8</text>
<line x1="126.00" y1="389.30" x2="126.00" y2="392.30" stroke="#2a2a2a" stroke-width="1.1"/>
<text x="126.00" y="401.30" font-size="6.3" text-anchor="middle" fill="#222">24</text>
<line x1="157.10" y1="389.30" x2="157.10" y2="392.30" stroke="#2a2a2a" stroke-width="1.1"/>
<text x="157.10" y="401.30" font-size="6.3" text-anchor="middle" fill="#222">48</text>
<rect x="54.60" y="305.80" width="12.60" height="3.70" fill="#000000"/>
<text x="69.70" y="309.59" font-size="5.4" fill="#222">NO INH</text>
<rect x="54.60" y="313.50" width="12.60" height="3.70" fill="#a80c32"/>
<text x="69.70" y="317.29" font-size="5.4" fill="#222">NU7026</text>
<rect x="54.60" y="321.20" width="12.60" height="3.70" fill="#6aab44"/>
<text x="69.70" y="324.99" font-size="5.4" fill="#222">SCR7</text>
<rect x="54.60" y="328.90" width="12.60" height="3.70" fill="#e8b475"/>
<text x="69.70" y="332.69" font-size="5.4" fill="#222">RI-1</text>
<text x="21.00" y="344.90" font-size="8.3" text-anchor="middle" transform="rotate(-90 21.00 344.90)" textLength="18.40" lengthAdjust="spacingAndGlyphs">Mean</text>
<text x="31.60" y="346.60" font-size="8.3" text-anchor="middle" transform="rotate(-90 31.60 346.60)" textLength="80.20" lengthAdjust="spacingAndGlyphs">γH2Ax foci per nucleus</text>
<text x="110.45" y="413.00" font-size="8.3" text-anchor="middle" textLength="83.10" lengthAdjust="spacingAndGlyphs">Post-incubation time (h)</text>
<text x="180.80" y="296.40" font-size="11.6" font-weight="bold" fill="#000">H</text>
<text x="280.30" y="296.60" font-size="8.6" text-anchor="middle" textLength="48.80" lengthAdjust="spacingAndGlyphs">LR5 - γH2Ax</text>
<line x1="220.00" y1="300.80" x2="220.00" y2="389.95" stroke="#2a2a2a" stroke-width="1.4"/>
<line x1="217.00" y1="389.30" x2="220.00" y2="389.30" stroke="#2a2a2a" stroke-width="1.1"/>
<text x="214.20" y="391.76" font-size="6.3" text-anchor="end" fill="#222">0</text>
<line x1="217.00" y1="367.95" x2="220.00" y2="367.95" stroke="#2a2a2a" stroke-width="1.1"/>
<text x="214.20" y="370.41" font-size="6.3" text-anchor="end" fill="#222">10</text>
<line x1="217.00" y1="346.60" x2="220.00" y2="346.60" stroke="#2a2a2a" stroke-width="1.1"/>
<text x="214.20" y="349.06" font-size="6.3" text-anchor="end" fill="#222">20</text>
<line x1="217.00" y1="325.25" x2="220.00" y2="325.25" stroke="#2a2a2a" stroke-width="1.1"/>
<text x="214.20" y="327.71" font-size="6.3" text-anchor="end" fill="#222">30</text>
<line x1="217.00" y1="303.90" x2="220.00" y2="303.90" stroke="#2a2a2a" stroke-width="1.1"/>
<text x="214.20" y="306.36" font-size="6.3" text-anchor="end" fill="#222">40</text>
<rect x="223.60" y="379.91" width="4.65" height="9.39" fill="#000000"/>
<rect x="228.20" y="372.65" width="4.65" height="16.65" fill="#a80c32"/>
<rect x="232.80" y="349.59" width="4.65" height="39.71" fill="#6aab44"/>
<rect x="237.40" y="363.89" width="4.65" height="25.41" fill="#e8b475"/>
<line x1="225.90" y1="379.91" x2="225.90" y2="376.28" stroke="#111" stroke-width="0.9"/>
<line x1="224.60" y1="376.28" x2="227.20" y2="376.28" stroke="#111" stroke-width="1.1"/>
<line x1="230.50" y1="372.65" x2="230.50" y2="368.80" stroke="#111" stroke-width="0.9"/>
<line x1="229.20" y1="368.80" x2="231.80" y2="368.80" stroke="#111" stroke-width="1.1"/>
<line x1="235.10" y1="349.59" x2="235.10" y2="346.17" stroke="#111" stroke-width="0.9"/>
<line x1="233.80" y1="346.17" x2="236.40" y2="346.17" stroke="#111" stroke-width="1.1"/>
<line x1="239.70" y1="363.89" x2="239.70" y2="361.12" stroke="#111" stroke-width="0.9"/>
<line x1="238.40" y1="361.12" x2="241.00" y2="361.12" stroke="#111" stroke-width="1.1"/>
<rect x="255.00" y="359.84" width="4.65" height="29.46" fill="#000000"/>
<rect x="259.60" y="348.09" width="4.65" height="41.21" fill="#a80c32"/>
<rect x="264.20" y="319.27" width="4.65" height="70.03" fill="#6aab44"/>
<rect x="268.80" y="340.84" width="4.65" height="48.46" fill="#e8b475"/>
<line x1="257.30" y1="359.84" x2="257.30" y2="354.93" stroke="#111" stroke-width="0.9"/>
<line x1="256.00" y1="354.93" x2="258.60" y2="354.93" stroke="#111" stroke-width="1.1"/>
<line x1="261.90" y1="348.09" x2="261.90" y2="342.33" stroke="#111" stroke-width="0.9"/>
<line x1="260.60" y1="342.33" x2="263.20" y2="342.33" stroke="#111" stroke-width="1.1"/>
<line x1="266.50" y1="319.27" x2="266.50" y2="314.15" stroke="#111" stroke-width="0.9"/>
<line x1="265.20" y1="314.15" x2="267.80" y2="314.15" stroke="#111" stroke-width="1.1"/>
<line x1="271.10" y1="340.84" x2="271.10" y2="335.28" stroke="#111" stroke-width="0.9"/>
<line x1="269.80" y1="335.28" x2="272.40" y2="335.28" stroke="#111" stroke-width="1.1"/>
<rect x="286.40" y="381.19" width="4.65" height="8.11" fill="#000000"/>
<rect x="291.00" y="360.90" width="4.65" height="28.40" fill="#a80c32"/>
<rect x="295.60" y="325.89" width="4.65" height="63.41" fill="#6aab44"/>
<rect x="300.20" y="363.47" width="4.65" height="25.83" fill="#e8b475"/>
<line x1="288.70" y1="381.19" x2="288.70" y2="377.34" stroke="#111" stroke-width="0.9"/>
<line x1="287.40" y1="377.34" x2="290.00" y2="377.34" stroke="#111" stroke-width="1.1"/>
<line x1="293.30" y1="360.90" x2="293.30" y2="355.78" stroke="#111" stroke-width="0.9"/>
<line x1="292.00" y1="355.78" x2="294.60" y2="355.78" stroke="#111" stroke-width="1.1"/>
<line x1="297.90" y1="325.89" x2="297.90" y2="320.34" stroke="#111" stroke-width="0.9"/>
<line x1="296.60" y1="320.34" x2="299.20" y2="320.34" stroke="#111" stroke-width="1.1"/>
<line x1="302.50" y1="363.47" x2="302.50" y2="357.70" stroke="#111" stroke-width="0.9"/>
<line x1="301.20" y1="357.70" x2="303.80" y2="357.70" stroke="#111" stroke-width="1.1"/>
<rect x="317.40" y="382.25" width="4.65" height="7.05" fill="#000000"/>
<rect x="322.00" y="378.41" width="4.65" height="10.89" fill="#a80c32"/>
<rect x="326.60" y="330.80" width="4.65" height="58.50" fill="#6aab44"/>
<rect x="331.20" y="373.29" width="4.65" height="16.01" fill="#e8b475"/>
<line x1="328.90" y1="330.80" x2="328.90" y2="325.46" stroke="#111" stroke-width="0.9"/>
<line x1="327.60" y1="325.46" x2="330.20" y2="325.46" stroke="#111" stroke-width="1.1"/>
<line x1="333.50" y1="373.29" x2="333.50" y2="369.66" stroke="#111" stroke-width="0.9"/>
<line x1="332.20" y1="369.66" x2="334.80" y2="369.66" stroke="#111" stroke-width="1.1"/>
<line x1="219.30" y1="389.30" x2="339.60" y2="389.30" stroke="#2a2a2a" stroke-width="1.4"/>
<line x1="232.80" y1="389.30" x2="232.80" y2="392.30" stroke="#2a2a2a" stroke-width="1.1"/>
<text x="232.80" y="401.30" font-size="6.3" text-anchor="middle" fill="#222">2</text>
<line x1="264.20" y1="389.30" x2="264.20" y2="392.30" stroke="#2a2a2a" stroke-width="1.1"/>
<text x="264.20" y="401.30" font-size="6.3" text-anchor="middle" fill="#222">8</text>
<line x1="295.60" y1="389.30" x2="295.60" y2="392.30" stroke="#2a2a2a" stroke-width="1.1"/>
<text x="295.60" y="401.30" font-size="6.3" text-anchor="middle" fill="#222">24</text>
<line x1="326.60" y1="389.30" x2="326.60" y2="392.30" stroke="#2a2a2a" stroke-width="1.1"/>
<text x="326.60" y="401.30" font-size="6.3" text-anchor="middle" fill="#222">48</text>
<rect x="223.80" y="304.40" width="12.60" height="3.70" fill="#000000"/>
<text x="239.50" y="308.19" font-size="5.4" fill="#222">NO INH</text>
<rect x="223.80" y="311.85" width="12.60" height="3.70" fill="#a80c32"/>
<text x="239.50" y="315.64" font-size="5.4" fill="#222">NU7026</text>
<rect x="223.80" y="319.30" width="12.60" height="3.70" fill="#6aab44"/>
<text x="239.50" y="323.09" font-size="5.4" fill="#222">SCR7</text>
<rect x="223.80" y="326.75" width="12.60" height="3.70" fill="#e8b475"/>
<text x="239.50" y="330.54" font-size="5.4" fill="#222">RI-1</text>
<text x="190.60" y="344.90" font-size="8.3" text-anchor="middle" transform="rotate(-90 190.60 344.90)" textLength="18.40" lengthAdjust="spacingAndGlyphs">Mean</text>
<text x="201.20" y="346.60" font-size="8.3" text-anchor="middle" transform="rotate(-90 201.20 346.60)" textLength="80.20" lengthAdjust="spacingAndGlyphs">γH2Ax foci per nucleus</text>
<text x="279.90" y="413.00" font-size="8.3" text-anchor="middle" textLength="82.80" lengthAdjust="spacingAndGlyphs">Post-incubation time (h)</text>
<text x="349.60" y="296.40" font-size="11.6" font-weight="bold" fill="#000">I</text>
<text x="449.35" y="296.40" font-size="8.6" text-anchor="middle" textLength="90.90" lengthAdjust="spacingAndGlyphs">Cell lines - γH2Ax - AUC</text>
<line x1="389.20" y1="304.20" x2="389.20" y2="389.95" stroke="#2a2a2a" stroke-width="1.4"/>
<line x1="386.20" y1="389.30" x2="389.20" y2="389.30" stroke="#2a2a2a" stroke-width="1.1"/>
<text x="383.40" y="391.68" font-size="6.1" text-anchor="end" fill="#222">0</text>
<line x1="386.20" y1="376.45" x2="389.20" y2="376.45" stroke="#2a2a2a" stroke-width="1.1"/>
<text x="383.40" y="378.83" font-size="6.1" text-anchor="end" fill="#222">300</text>
<line x1="386.20" y1="363.60" x2="389.20" y2="363.60" stroke="#2a2a2a" stroke-width="1.1"/>
<text x="383.40" y="365.98" font-size="6.1" text-anchor="end" fill="#222">600</text>
<line x1="386.20" y1="350.75" x2="389.20" y2="350.75" stroke="#2a2a2a" stroke-width="1.1"/>
<text x="383.40" y="353.13" font-size="6.1" text-anchor="end" fill="#222">900</text>
<line x1="386.20" y1="337.90" x2="389.20" y2="337.90" stroke="#2a2a2a" stroke-width="1.1"/>
<text x="383.40" y="340.28" font-size="6.1" text-anchor="end" fill="#222">1200</text>
<line x1="386.20" y1="325.05" x2="389.20" y2="325.05" stroke="#2a2a2a" stroke-width="1.1"/>
<text x="383.40" y="327.43" font-size="6.1" text-anchor="end" fill="#222">1500</text>
<line x1="386.20" y1="312.20" x2="389.20" y2="312.20" stroke="#2a2a2a" stroke-width="1.1"/>
<text x="383.40" y="314.58" font-size="6.1" text-anchor="end" fill="#222">1800</text>
<rect x="400.50" y="369.21" width="8.05" height="20.09" fill="#000000"/>
<rect x="408.50" y="377.31" width="8.05" height="11.99" fill="#a80c32"/>
<line x1="404.50" y1="369.21" x2="404.50" y2="366.13" stroke="#111" stroke-width="0.9"/>
<line x1="403.00" y1="366.13" x2="406.00" y2="366.13" stroke="#111" stroke-width="1.1"/>
<line x1="412.50" y1="377.31" x2="412.50" y2="375.29" stroke="#111" stroke-width="0.9"/>
<line x1="411.00" y1="375.29" x2="414.00" y2="375.29" stroke="#111" stroke-width="1.1"/>
<rect x="427.60" y="357.00" width="8.05" height="32.30" fill="#000000"/>
<rect x="435.60" y="365.01" width="8.05" height="24.29" fill="#a80c32"/>
<line x1="431.60" y1="357.00" x2="431.60" y2="353.79" stroke="#111" stroke-width="0.9"/>
<line x1="430.10" y1="353.79" x2="433.10" y2="353.79" stroke="#111" stroke-width="1.1"/>
<line x1="439.60" y1="365.01" x2="439.60" y2="362.70" stroke="#111" stroke-width="0.9"/>
<line x1="438.10" y1="362.70" x2="441.10" y2="362.70" stroke="#111" stroke-width="1.1"/>
<rect x="454.80" y="329.20" width="8.05" height="60.10" fill="#000000"/>
<rect x="462.80" y="332.20" width="8.05" height="57.10" fill="#a80c32"/>
<line x1="458.80" y1="329.20" x2="458.80" y2="323.51" stroke="#111" stroke-width="0.9"/>
<line x1="457.30" y1="323.51" x2="460.30" y2="323.51" stroke="#111" stroke-width="1.1"/>
<line x1="466.80" y1="332.20" x2="466.80" y2="326.51" stroke="#111" stroke-width="0.9"/>
<line x1="465.30" y1="326.51" x2="468.30" y2="326.51" stroke="#111" stroke-width="1.1"/>
<rect x="482.00" y="356.79" width="8.05" height="32.51" fill="#000000"/>
<rect x="490.00" y="363.00" width="8.05" height="26.30" fill="#a80c32"/>
<line x1="486.00" y1="356.79" x2="486.00" y2="353.92" stroke="#111" stroke-width="0.9"/>
<line x1="484.50" y1="353.92" x2="487.50" y2="353.92" stroke="#111" stroke-width="1.1"/>
<line x1="494.00" y1="363.00" x2="494.00" y2="360.39" stroke="#111" stroke-width="0.9"/>
<line x1="492.50" y1="360.39" x2="495.50" y2="360.39" stroke="#111" stroke-width="1.1"/>
<line x1="388.50" y1="389.30" x2="508.50" y2="389.30" stroke="#2a2a2a" stroke-width="1.4"/>
<line x1="408.50" y1="389.30" x2="408.50" y2="392.30" stroke="#2a2a2a" stroke-width="1.1"/>
<line x1="435.60" y1="389.30" x2="435.60" y2="392.30" stroke="#2a2a2a" stroke-width="1.1"/>
<line x1="462.80" y1="389.30" x2="462.80" y2="392.30" stroke="#2a2a2a" stroke-width="1.1"/>
<line x1="490.00" y1="389.30" x2="490.00" y2="392.30" stroke="#2a2a2a" stroke-width="1.1"/>
<text x="408.75" y="401.10" font-size="6.4" text-anchor="middle" textLength="22.50" lengthAdjust="spacingAndGlyphs">NO INH</text>
<text x="435.65" y="401.10" font-size="6.4" text-anchor="middle" textLength="23.70" lengthAdjust="spacingAndGlyphs">NU7026</text>
<text x="461.65" y="401.10" font-size="6.4" text-anchor="middle" textLength="14.30" lengthAdjust="spacingAndGlyphs">SCR7</text>
<text x="489.40" y="401.10" font-size="6.4" text-anchor="middle" textLength="11.20" lengthAdjust="spacingAndGlyphs">RI-1</text>
<rect x="472.30" y="317.30" width="12.60" height="3.70" fill="#000000"/>
<text x="487.70" y="321.09" font-size="5.4" fill="#222">RPMI8226</text>
<rect x="472.30" y="325.00" width="12.60" height="3.70" fill="#a80c32"/>
<text x="487.70" y="328.79" font-size="5.4" fill="#222">LR5</text>
<path d="M411.80,352.60 L411.80,352.10 Q411.80,351.60 412.30,351.60 L439.10,351.60 Q439.60,351.60 439.60,352.10 L439.60,352.60" stroke="#222" stroke-width="1.2" fill="none"/>
<text x="428.40" y="348.70" font-size="5.3" text-anchor="middle" fill="#222"><tspan font-style="italic">P</tspan>=0.0163</text>
<path d="M412.20,322.10 L412.20,321.60 Q412.20,321.10 412.70,321.10 L466.90,321.10 Q467.40,321.10 467.40,321.60 L467.40,322.10" stroke="#222" stroke-width="1.2" fill="none"/>
<text x="440.20" y="318.60" font-size="5.3" text-anchor="middle" fill="#222"><tspan font-style="italic">P</tspan>=0.0039</text>
<path d="M412.20,313.10 L412.20,312.60 Q412.20,312.10 412.70,312.10 L493.00,312.10 Q493.50,312.10 493.50,312.60 L493.50,313.10" stroke="#222" stroke-width="1.2" fill="none"/>
<text x="453.70" y="309.60" font-size="5.3" text-anchor="middle" fill="#222"><tspan font-style="italic">P</tspan>=0.0104</text>
<text x="353.60" y="348.50" font-size="8.3" text-anchor="middle" transform="rotate(-90 353.60 348.50)" textLength="79.00" lengthAdjust="spacingAndGlyphs">AUC [(mean γH2AX foci</text>
<text x="363.60" y="349.00" font-size="8.3" text-anchor="middle" transform="rotate(-90 363.60 349.00)" textLength="56.40" lengthAdjust="spacingAndGlyphs">per nucleus) x h]</text>
<text x="7.20" y="438.60" font-size="11.6" font-weight="bold" fill="#000">J</text>
<text x="111.10" y="438.20" font-size="8.6" text-anchor="middle" textLength="106.40" lengthAdjust="spacingAndGlyphs">Cell lines - Rad51 - NO INH</text>
<line x1="50.80" y1="441.90" x2="50.80" y2="532.85" stroke="#2a2a2a" stroke-width="1.4"/>
<line x1="47.80" y1="532.20" x2="50.80" y2="532.20" stroke="#2a2a2a" stroke-width="1.1"/>
<text x="44.20" y="534.62" font-size="6.2" text-anchor="end" fill="#222">0</text>
<line x1="47.80" y1="514.85" x2="50.80" y2="514.85" stroke="#2a2a2a" stroke-width="1.1"/>
<text x="44.20" y="517.27" font-size="6.2" text-anchor="end" fill="#222">4</text>
<line x1="47.80" y1="497.50" x2="50.80" y2="497.50" stroke="#2a2a2a" stroke-width="1.1"/>
<text x="44.20" y="499.92" font-size="6.2" text-anchor="end" fill="#222">8</text>
<line x1="47.80" y1="480.15" x2="50.80" y2="480.15" stroke="#2a2a2a" stroke-width="1.1"/>
<text x="44.20" y="482.57" font-size="6.2" text-anchor="end" fill="#222">12</text>
<line x1="47.80" y1="462.80" x2="50.80" y2="462.80" stroke="#2a2a2a" stroke-width="1.1"/>
<text x="44.20" y="465.22" font-size="6.2" text-anchor="end" fill="#222">16</text>
<line x1="47.80" y1="445.45" x2="50.80" y2="445.45" stroke="#2a2a2a" stroke-width="1.1"/>
<text x="44.20" y="447.87" font-size="6.2" text-anchor="end" fill="#222">20</text>
<line x1="50.10" y1="532.20" x2="171.90" y2="532.20" stroke="#2a2a2a" stroke-width="1.4"/>
<line x1="57.40" y1="532.20" x2="57.40" y2="535.20" stroke="#2a2a2a" stroke-width="1.1"/>
<text x="57.40" y="543.90" font-size="6.2" text-anchor="middle" fill="#222">0</text>
<line x1="74.85" y1="532.20" x2="74.85" y2="535.20" stroke="#2a2a2a" stroke-width="1.1"/>
<text x="74.85" y="543.90" font-size="6.2" text-anchor="middle" fill="#222">8</text>
<line x1="92.30" y1="532.20" x2="92.30" y2="535.20" stroke="#2a2a2a" stroke-width="1.1"/>
<text x="92.30" y="543.90" font-size="6.2" text-anchor="middle" fill="#222">16</text>
<line x1="109.75" y1="532.20" x2="109.75" y2="535.20" stroke="#2a2a2a" stroke-width="1.1"/>
<text x="109.75" y="543.90" font-size="6.2" text-anchor="middle" fill="#222">24</text>
<line x1="127.20" y1="532.20" x2="127.20" y2="535.20" stroke="#2a2a2a" stroke-width="1.1"/>
<text x="127.20" y="543.90" font-size="6.2" text-anchor="middle" fill="#222">32</text>
<line x1="144.65" y1="532.20" x2="144.65" y2="535.20" stroke="#2a2a2a" stroke-width="1.1"/>
<text x="144.65" y="543.90" font-size="6.2" text-anchor="middle" fill="#222">40</text>
<line x1="162.10" y1="532.20" x2="162.10" y2="535.20" stroke="#2a2a2a" stroke-width="1.1"/>
<text x="162.10" y="543.90" font-size="6.2" text-anchor="middle" fill="#222">48</text>
<line x1="61.76" y1="492.73" x2="61.76" y2="511.81" stroke="#000000" stroke-width="0.9"/>
<line x1="60.46" y1="492.73" x2="63.06" y2="492.73" stroke="#000000" stroke-width="1.0"/>
<line x1="60.46" y1="511.81" x2="63.06" y2="511.81" stroke="#000000" stroke-width="1.0"/>
<line x1="74.85" y1="454.56" x2="74.85" y2="476.68" stroke="#000000" stroke-width="0.9"/>
<line x1="73.55" y1="454.56" x2="76.15" y2="454.56" stroke="#000000" stroke-width="1.0"/>
<line x1="73.55" y1="476.68" x2="76.15" y2="476.68" stroke="#000000" stroke-width="1.0"/>
<line x1="109.75" y1="485.36" x2="109.75" y2="499.67" stroke="#000000" stroke-width="0.9"/>
<line x1="108.45" y1="485.36" x2="111.05" y2="485.36" stroke="#000000" stroke-width="1.0"/>
<line x1="108.45" y1="499.67" x2="111.05" y2="499.67" stroke="#000000" stroke-width="1.0"/>
<line x1="162.10" y1="505.74" x2="162.10" y2="517.89" stroke="#000000" stroke-width="0.9"/>
<line x1="160.80" y1="505.74" x2="163.40" y2="505.74" stroke="#000000" stroke-width="1.0"/>
<line x1="160.80" y1="517.89" x2="163.40" y2="517.89" stroke="#000000" stroke-width="1.0"/>
<polyline points="61.76,502.27 74.85,465.84 109.75,492.73 162.10,511.81" stroke="#000000" stroke-width="1.75" fill="none" stroke-linejoin="miter"/>
<circle cx="61.76" cy="502.27" r="1.7" fill="#000000"/>
<circle cx="74.85" cy="465.84" r="1.7" fill="#000000"/>
<circle cx="109.75" cy="492.73" r="1.7" fill="#000000"/>
<circle cx="162.10" cy="511.81" r="1.7" fill="#000000"/>
<line x1="61.76" y1="508.78" x2="61.76" y2="520.92" stroke="#7c1236" stroke-width="0.9"/>
<line x1="60.46" y1="508.78" x2="63.06" y2="508.78" stroke="#7c1236" stroke-width="1.0"/>
<line x1="60.46" y1="520.92" x2="63.06" y2="520.92" stroke="#7c1236" stroke-width="1.0"/>
<line x1="74.85" y1="471.91" x2="74.85" y2="494.03" stroke="#7c1236" stroke-width="0.9"/>
<line x1="73.55" y1="471.91" x2="76.15" y2="471.91" stroke="#7c1236" stroke-width="1.0"/>
<line x1="73.55" y1="494.03" x2="76.15" y2="494.03" stroke="#7c1236" stroke-width="1.0"/>
<line x1="109.75" y1="509.21" x2="109.75" y2="522.22" stroke="#7c1236" stroke-width="0.9"/>
<line x1="108.45" y1="509.21" x2="111.05" y2="509.21" stroke="#7c1236" stroke-width="1.0"/>
<line x1="108.45" y1="522.22" x2="111.05" y2="522.22" stroke="#7c1236" stroke-width="1.0"/>
<line x1="162.10" y1="513.55" x2="162.10" y2="525.69" stroke="#7c1236" stroke-width="0.9"/>
<line x1="160.80" y1="513.55" x2="163.40" y2="513.55" stroke="#7c1236" stroke-width="1.0"/>
<line x1="160.80" y1="525.69" x2="163.40" y2="525.69" stroke="#7c1236" stroke-width="1.0"/>
<polyline points="61.76,514.85 74.85,483.62 109.75,515.72 162.10,519.62" stroke="#7c1236" stroke-width="1.75" fill="none" stroke-linejoin="miter"/>
<polygon points="59.86,516.37 63.66,516.37 61.76,512.95" fill="#7c1236"/>
<polygon points="72.95,485.14 76.75,485.14 74.85,481.72" fill="#7c1236"/>
<polygon points="107.85,517.24 111.65,517.24 109.75,513.82" fill="#7c1236"/>
<polygon points="160.20,521.14 164.00,521.14 162.10,517.72" fill="#7c1236"/>
<line x1="128.00" y1="453.80" x2="142.70" y2="453.80" stroke="#000000" stroke-width="1.5"/>
<circle cx="135.35" cy="453.80" r="1.5" fill="#000000"/>
<text x="146.10" y="455.71" font-size="5.3" fill="#222">RPMI8226</text>
<line x1="128.00" y1="460.80" x2="142.70" y2="460.80" stroke="#7c1236" stroke-width="1.5"/>
<polygon points="133.65,462.16 137.05,462.16 135.35,459.10" fill="#7c1236"/>
<text x="146.10" y="462.71" font-size="5.3" fill="#222">LR5</text>
<text x="21.10" y="487.60" font-size="8.3" text-anchor="middle" transform="rotate(-90 21.10 487.60)" textLength="18.60" lengthAdjust="spacingAndGlyphs">Mean</text>
<text x="31.80" y="488.50" font-size="8.3" text-anchor="middle" transform="rotate(-90 31.80 488.50)" textLength="78.70" lengthAdjust="spacingAndGlyphs">Rad51 foci per nucleus</text>
<text x="111.55" y="556.00" font-size="8.3" text-anchor="middle" textLength="82.90" lengthAdjust="spacingAndGlyphs">Post-incubation time (h)</text>
<text x="180.10" y="438.20" font-size="11.6" font-weight="bold" fill="#000">K</text>
<text x="280.75" y="438.20" font-size="8.6" text-anchor="middle" textLength="74.70" lengthAdjust="spacingAndGlyphs">RPMI8226 - Rad51</text>
<line x1="220.30" y1="441.90" x2="220.30" y2="532.85" stroke="#2a2a2a" stroke-width="1.4"/>
<line x1="217.30" y1="532.20" x2="220.30" y2="532.20" stroke="#2a2a2a" stroke-width="1.1"/>
<text x="214.50" y="534.66" font-size="6.3" text-anchor="end" fill="#222">0</text>
<line x1="217.30" y1="517.75" x2="220.30" y2="517.75" stroke="#2a2a2a" stroke-width="1.1"/>
<text x="214.50" y="520.21" font-size="6.3" text-anchor="end" fill="#222">5</text>
<line x1="217.30" y1="503.30" x2="220.30" y2="503.30" stroke="#2a2a2a" stroke-width="1.1"/>
<text x="214.50" y="505.76" font-size="6.3" text-anchor="end" fill="#222">10</text>
<line x1="217.30" y1="488.85" x2="220.30" y2="488.85" stroke="#2a2a2a" stroke-width="1.1"/>
<text x="214.50" y="491.31" font-size="6.3" text-anchor="end" fill="#222">15</text>
<line x1="217.30" y1="474.40" x2="220.30" y2="474.40" stroke="#2a2a2a" stroke-width="1.1"/>
<text x="214.50" y="476.86" font-size="6.3" text-anchor="end" fill="#222">20</text>
<line x1="217.30" y1="459.95" x2="220.30" y2="459.95" stroke="#2a2a2a" stroke-width="1.1"/>
<text x="214.50" y="462.41" font-size="6.3" text-anchor="end" fill="#222">25</text>
<line x1="217.30" y1="445.50" x2="220.30" y2="445.50" stroke="#2a2a2a" stroke-width="1.1"/>
<text x="214.50" y="447.96" font-size="6.3" text-anchor="end" fill="#222">30</text>
<rect x="223.60" y="512.26" width="4.65" height="19.94" fill="#000000"/>
<rect x="228.20" y="505.03" width="4.65" height="27.17" fill="#a80c32"/>
<rect x="232.80" y="492.61" width="4.65" height="39.59" fill="#6aab44"/>
<rect x="237.40" y="523.82" width="4.65" height="8.38" fill="#e8b475"/>
<line x1="225.90" y1="512.26" x2="225.90" y2="505.90" stroke="#111" stroke-width="0.9"/>
<line x1="224.60" y1="505.90" x2="227.20" y2="505.90" stroke="#111" stroke-width="1.1"/>
<line x1="230.50" y1="505.03" x2="230.50" y2="498.68" stroke="#111" stroke-width="0.9"/>
<line x1="229.20" y1="498.68" x2="231.80" y2="498.68" stroke="#111" stroke-width="1.1"/>
<line x1="235.10" y1="492.61" x2="235.10" y2="488.56" stroke="#111" stroke-width="0.9"/>
<line x1="233.80" y1="488.56" x2="236.40" y2="488.56" stroke="#111" stroke-width="1.1"/>
<line x1="239.70" y1="523.82" x2="239.70" y2="518.04" stroke="#111" stroke-width="0.9"/>
<line x1="238.40" y1="518.04" x2="241.00" y2="518.04" stroke="#111" stroke-width="1.1"/>
<rect x="255.40" y="487.98" width="4.65" height="44.22" fill="#000000"/>
<rect x="260.00" y="475.85" width="4.65" height="56.36" fill="#a80c32"/>
<rect x="264.60" y="460.24" width="4.65" height="71.96" fill="#6aab44"/>
<rect x="269.20" y="512.26" width="4.65" height="19.94" fill="#e8b475"/>
<line x1="257.70" y1="487.98" x2="257.70" y2="480.47" stroke="#111" stroke-width="0.9"/>
<line x1="256.40" y1="480.47" x2="259.00" y2="480.47" stroke="#111" stroke-width="1.1"/>
<line x1="262.30" y1="475.85" x2="262.30" y2="468.62" stroke="#111" stroke-width="0.9"/>
<line x1="261.00" y1="468.62" x2="263.60" y2="468.62" stroke="#111" stroke-width="1.1"/>
<line x1="266.90" y1="460.24" x2="266.90" y2="452.73" stroke="#111" stroke-width="0.9"/>
<line x1="265.60" y1="452.73" x2="268.20" y2="452.73" stroke="#111" stroke-width="1.1"/>
<line x1="271.50" y1="512.26" x2="271.50" y2="506.48" stroke="#111" stroke-width="0.9"/>
<line x1="270.20" y1="506.48" x2="272.80" y2="506.48" stroke="#111" stroke-width="1.1"/>
<rect x="287.30" y="505.90" width="4.65" height="26.30" fill="#000000"/>
<rect x="291.90" y="489.14" width="4.65" height="43.06" fill="#a80c32"/>
<rect x="296.50" y="478.74" width="4.65" height="53.46" fill="#6aab44"/>
<rect x="301.10" y="518.04" width="4.65" height="14.16" fill="#e8b475"/>
<line x1="289.60" y1="505.90" x2="289.60" y2="500.41" stroke="#111" stroke-width="0.9"/>
<line x1="288.30" y1="500.41" x2="290.90" y2="500.41" stroke="#111" stroke-width="1.1"/>
<line x1="294.20" y1="489.14" x2="294.20" y2="484.52" stroke="#111" stroke-width="0.9"/>
<line x1="292.90" y1="484.52" x2="295.50" y2="484.52" stroke="#111" stroke-width="1.1"/>
<line x1="298.80" y1="478.74" x2="298.80" y2="476.42" stroke="#111" stroke-width="0.9"/>
<line x1="297.50" y1="476.42" x2="300.10" y2="476.42" stroke="#111" stroke-width="1.1"/>
<line x1="303.40" y1="518.04" x2="303.40" y2="514.86" stroke="#111" stroke-width="0.9"/>
<line x1="302.10" y1="514.86" x2="304.70" y2="514.86" stroke="#111" stroke-width="1.1"/>
<rect x="318.60" y="518.62" width="4.65" height="13.58" fill="#000000"/>
<rect x="323.20" y="498.68" width="4.65" height="33.52" fill="#a80c32"/>
<rect x="327.80" y="486.54" width="4.65" height="45.66" fill="#6aab44"/>
<rect x="332.40" y="524.40" width="4.65" height="7.80" fill="#e8b475"/>
<line x1="320.90" y1="518.62" x2="320.90" y2="514.28" stroke="#111" stroke-width="0.9"/>
<line x1="319.60" y1="514.28" x2="322.20" y2="514.28" stroke="#111" stroke-width="1.1"/>
<line x1="325.50" y1="498.68" x2="325.50" y2="496.94" stroke="#111" stroke-width="0.9"/>
<line x1="324.20" y1="496.94" x2="326.80" y2="496.94" stroke="#111" stroke-width="1.1"/>
<line x1="330.10" y1="486.54" x2="330.10" y2="480.47" stroke="#111" stroke-width="0.9"/>
<line x1="328.80" y1="480.47" x2="331.40" y2="480.47" stroke="#111" stroke-width="1.1"/>
<line x1="334.70" y1="524.40" x2="334.70" y2="520.35" stroke="#111" stroke-width="0.9"/>
<line x1="333.40" y1="520.35" x2="336.00" y2="520.35" stroke="#111" stroke-width="1.1"/>
<line x1="219.60" y1="532.20" x2="341.20" y2="532.20" stroke="#2a2a2a" stroke-width="1.4"/>
<line x1="232.80" y1="532.20" x2="232.80" y2="535.20" stroke="#2a2a2a" stroke-width="1.1"/>
<text x="232.80" y="544.20" font-size="6.3" text-anchor="middle" fill="#222">2</text>
<line x1="264.60" y1="532.20" x2="264.60" y2="535.20" stroke="#2a2a2a" stroke-width="1.1"/>
<text x="264.60" y="544.20" font-size="6.3" text-anchor="middle" fill="#222">8</text>
<line x1="296.50" y1="532.20" x2="296.50" y2="535.20" stroke="#2a2a2a" stroke-width="1.1"/>
<text x="296.50" y="544.20" font-size="6.3" text-anchor="middle" fill="#222">24</text>
<line x1="327.80" y1="532.20" x2="327.80" y2="535.20" stroke="#2a2a2a" stroke-width="1.1"/>
<text x="327.80" y="544.20" font-size="6.3" text-anchor="middle" fill="#222">48</text>
<rect x="305.80" y="446.00" width="12.60" height="3.70" fill="#000000"/>
<text x="320.70" y="449.79" font-size="5.4" fill="#222">NO INH</text>
<rect x="305.80" y="453.70" width="12.60" height="3.70" fill="#a80c32"/>
<text x="320.70" y="457.49" font-size="5.4" fill="#222">NU7026</text>
<rect x="305.80" y="461.40" width="12.60" height="3.70" fill="#6aab44"/>
<text x="320.70" y="465.19" font-size="5.4" fill="#222">SCR7</text>
<rect x="305.80" y="469.10" width="12.60" height="3.70" fill="#e8b475"/>
<text x="320.70" y="472.89" font-size="5.4" fill="#222">RI-1</text>
<text x="190.70" y="487.60" font-size="8.3" text-anchor="middle" transform="rotate(-90 190.70 487.60)" textLength="18.60" lengthAdjust="spacingAndGlyphs">Mean</text>
<text x="201.40" y="488.50" font-size="8.3" text-anchor="middle" transform="rotate(-90 201.40 488.50)" textLength="78.70" lengthAdjust="spacingAndGlyphs">Rad51 foci per nucleus</text>
<text x="280.95" y="556.50" font-size="8.3" text-anchor="middle" textLength="82.90" lengthAdjust="spacingAndGlyphs">Post-incubation time (h)</text>
<text x="350.00" y="438.20" font-size="11.6" font-weight="bold" fill="#000">L</text>
<text x="450.20" y="438.20" font-size="8.6" text-anchor="middle" textLength="48.80" lengthAdjust="spacingAndGlyphs">LR5 - Rad51</text>
<line x1="389.70" y1="441.90" x2="389.70" y2="532.85" stroke="#2a2a2a" stroke-width="1.4"/>
<line x1="386.70" y1="532.20" x2="389.70" y2="532.20" stroke="#2a2a2a" stroke-width="1.1"/>
<text x="383.90" y="534.66" font-size="6.3" text-anchor="end" fill="#222">0</text>
<line x1="386.70" y1="517.70" x2="389.70" y2="517.70" stroke="#2a2a2a" stroke-width="1.1"/>
<text x="383.90" y="520.16" font-size="6.3" text-anchor="end" fill="#222">5</text>
<line x1="386.70" y1="503.20" x2="389.70" y2="503.20" stroke="#2a2a2a" stroke-width="1.1"/>
<text x="383.90" y="505.66" font-size="6.3" text-anchor="end" fill="#222">10</text>
<line x1="386.70" y1="488.70" x2="389.70" y2="488.70" stroke="#2a2a2a" stroke-width="1.1"/>
<text x="383.90" y="491.16" font-size="6.3" text-anchor="end" fill="#222">15</text>
<line x1="386.70" y1="474.20" x2="389.70" y2="474.20" stroke="#2a2a2a" stroke-width="1.1"/>
<text x="383.90" y="476.66" font-size="6.3" text-anchor="end" fill="#222">20</text>
<line x1="386.70" y1="459.70" x2="389.70" y2="459.70" stroke="#2a2a2a" stroke-width="1.1"/>
<text x="383.90" y="462.16" font-size="6.3" text-anchor="end" fill="#222">25</text>
<line x1="386.70" y1="445.20" x2="389.70" y2="445.20" stroke="#2a2a2a" stroke-width="1.1"/>
<text x="383.90" y="447.66" font-size="6.3" text-anchor="end" fill="#222">30</text>
<rect x="393.10" y="521.47" width="4.65" height="10.73" fill="#000000"/>
<rect x="397.70" y="514.80" width="4.65" height="17.40" fill="#a80c32"/>
<rect x="402.30" y="496.53" width="4.65" height="35.67" fill="#6aab44"/>
<rect x="406.90" y="524.95" width="4.65" height="7.25" fill="#e8b475"/>
<line x1="395.40" y1="521.47" x2="395.40" y2="517.41" stroke="#111" stroke-width="0.9"/>
<line x1="394.10" y1="517.41" x2="396.70" y2="517.41" stroke="#111" stroke-width="1.1"/>
<line x1="400.00" y1="514.80" x2="400.00" y2="508.42" stroke="#111" stroke-width="0.9"/>
<line x1="398.70" y1="508.42" x2="401.30" y2="508.42" stroke="#111" stroke-width="1.1"/>
<line x1="404.60" y1="496.53" x2="404.60" y2="489.57" stroke="#111" stroke-width="0.9"/>
<line x1="403.30" y1="489.57" x2="405.90" y2="489.57" stroke="#111" stroke-width="1.1"/>
<line x1="409.20" y1="524.95" x2="409.20" y2="521.18" stroke="#111" stroke-width="0.9"/>
<line x1="407.90" y1="521.18" x2="410.50" y2="521.18" stroke="#111" stroke-width="1.1"/>
<rect x="424.80" y="499.14" width="4.65" height="33.06" fill="#000000"/>
<rect x="429.40" y="489.86" width="4.65" height="42.34" fill="#a80c32"/>
<rect x="434.00" y="476.81" width="4.65" height="55.39" fill="#6aab44"/>
<rect x="438.60" y="512.19" width="4.65" height="20.01" fill="#e8b475"/>
<line x1="427.10" y1="499.14" x2="427.10" y2="491.60" stroke="#111" stroke-width="0.9"/>
<line x1="425.80" y1="491.60" x2="428.40" y2="491.60" stroke="#111" stroke-width="1.1"/>
<line x1="431.70" y1="489.86" x2="431.70" y2="483.77" stroke="#111" stroke-width="0.9"/>
<line x1="430.40" y1="483.77" x2="433.00" y2="483.77" stroke="#111" stroke-width="1.1"/>
<line x1="436.30" y1="476.81" x2="436.30" y2="467.53" stroke="#111" stroke-width="0.9"/>
<line x1="435.00" y1="467.53" x2="437.60" y2="467.53" stroke="#111" stroke-width="1.1"/>
<line x1="440.90" y1="512.19" x2="440.90" y2="503.20" stroke="#111" stroke-width="0.9"/>
<line x1="439.60" y1="503.20" x2="442.20" y2="503.20" stroke="#111" stroke-width="1.1"/>
<rect x="456.20" y="521.18" width="4.65" height="11.02" fill="#000000"/>
<rect x="460.80" y="502.04" width="4.65" height="30.16" fill="#a80c32"/>
<rect x="465.40" y="486.96" width="4.65" height="45.24" fill="#6aab44"/>
<rect x="470.00" y="518.86" width="4.65" height="13.34" fill="#e8b475"/>
<line x1="458.50" y1="521.18" x2="458.50" y2="516.54" stroke="#111" stroke-width="0.9"/>
<line x1="457.20" y1="516.54" x2="459.80" y2="516.54" stroke="#111" stroke-width="1.1"/>
<line x1="463.10" y1="502.04" x2="463.10" y2="497.98" stroke="#111" stroke-width="0.9"/>
<line x1="461.80" y1="497.98" x2="464.40" y2="497.98" stroke="#111" stroke-width="1.1"/>
<line x1="467.70" y1="486.96" x2="467.70" y2="481.45" stroke="#111" stroke-width="0.9"/>
<line x1="466.40" y1="481.45" x2="469.00" y2="481.45" stroke="#111" stroke-width="1.1"/>
<line x1="472.30" y1="518.86" x2="472.30" y2="513.93" stroke="#111" stroke-width="0.9"/>
<line x1="471.00" y1="513.93" x2="473.60" y2="513.93" stroke="#111" stroke-width="1.1"/>
<rect x="488.00" y="523.79" width="4.65" height="8.41" fill="#000000"/>
<rect x="492.60" y="509.58" width="4.65" height="22.62" fill="#a80c32"/>
<rect x="497.20" y="494.79" width="4.65" height="37.41" fill="#6aab44"/>
<rect x="501.80" y="526.40" width="4.65" height="5.80" fill="#e8b475"/>
<line x1="490.30" y1="523.79" x2="490.30" y2="519.73" stroke="#111" stroke-width="0.9"/>
<line x1="489.00" y1="519.73" x2="491.60" y2="519.73" stroke="#111" stroke-width="1.1"/>
<line x1="494.90" y1="509.58" x2="494.90" y2="503.49" stroke="#111" stroke-width="0.9"/>
<line x1="493.60" y1="503.49" x2="496.20" y2="503.49" stroke="#111" stroke-width="1.1"/>
<line x1="499.50" y1="494.79" x2="499.50" y2="488.41" stroke="#111" stroke-width="0.9"/>
<line x1="498.20" y1="488.41" x2="500.80" y2="488.41" stroke="#111" stroke-width="1.1"/>
<line x1="504.10" y1="526.40" x2="504.10" y2="523.79" stroke="#111" stroke-width="0.9"/>
<line x1="502.80" y1="523.79" x2="505.40" y2="523.79" stroke="#111" stroke-width="1.1"/>
<line x1="389.00" y1="532.20" x2="510.50" y2="532.20" stroke="#2a2a2a" stroke-width="1.4"/>
<line x1="402.30" y1="532.20" x2="402.30" y2="535.20" stroke="#2a2a2a" stroke-width="1.1"/>
<text x="402.30" y="544.20" font-size="6.3" text-anchor="middle" fill="#222">2</text>
<line x1="434.00" y1="532.20" x2="434.00" y2="535.20" stroke="#2a2a2a" stroke-width="1.1"/>
<text x="434.00" y="544.20" font-size="6.3" text-anchor="middle" fill="#222">8</text>
<line x1="465.40" y1="532.20" x2="465.40" y2="535.20" stroke="#2a2a2a" stroke-width="1.1"/>
<text x="465.40" y="544.20" font-size="6.3" text-anchor="middle" fill="#222">24</text>
<line x1="497.20" y1="532.20" x2="497.20" y2="535.20" stroke="#2a2a2a" stroke-width="1.1"/>
<text x="497.20" y="544.20" font-size="6.3" text-anchor="middle" fill="#222">48</text>
<rect x="475.10" y="446.50" width="12.60" height="3.70" fill="#000000"/>
<text x="490.80" y="450.29" font-size="5.4" fill="#222">NO INH</text>
<rect x="475.10" y="454.10" width="12.60" height="3.70" fill="#a80c32"/>
<text x="490.80" y="457.89" font-size="5.4" fill="#222">NU7026</text>
<rect x="475.10" y="461.70" width="12.60" height="3.70" fill="#6aab44"/>
<text x="490.80" y="465.49" font-size="5.4" fill="#222">SCR7</text>
<rect x="475.10" y="469.30" width="12.60" height="3.70" fill="#e8b475"/>
<text x="490.80" y="473.09" font-size="5.4" fill="#222">RI-1</text>
<text x="360.20" y="487.60" font-size="8.3" text-anchor="middle" transform="rotate(-90 360.20 487.60)" textLength="18.60" lengthAdjust="spacingAndGlyphs">Mean</text>
<text x="370.90" y="488.50" font-size="8.3" text-anchor="middle" transform="rotate(-90 370.90 488.50)" textLength="78.70" lengthAdjust="spacingAndGlyphs">Rad51 foci per nucleus</text>
<text x="449.90" y="556.50" font-size="8.3" text-anchor="middle" textLength="82.80" lengthAdjust="spacingAndGlyphs">Post-incubation time (h)</text>
<text x="7.40" y="580.90" font-size="11.6" font-weight="bold" fill="#000">M</text>
<text x="108.45" y="579.80" font-size="8.6" text-anchor="middle" textLength="94.30" lengthAdjust="spacingAndGlyphs">Cell lines - Rad51 - AUC</text>
<line x1="50.50" y1="591.20" x2="50.50" y2="676.75" stroke="#2a2a2a" stroke-width="1.4"/>
<line x1="47.50" y1="676.10" x2="50.50" y2="676.10" stroke="#2a2a2a" stroke-width="1.1"/>
<text x="44.70" y="678.56" font-size="6.3" text-anchor="end" fill="#222">0</text>
<line x1="47.50" y1="662.50" x2="50.50" y2="662.50" stroke="#2a2a2a" stroke-width="1.1"/>
<text x="44.70" y="664.96" font-size="6.3" text-anchor="end" fill="#222">250</text>
<line x1="47.50" y1="648.90" x2="50.50" y2="648.90" stroke="#2a2a2a" stroke-width="1.1"/>
<text x="44.70" y="651.36" font-size="6.3" text-anchor="end" fill="#222">500</text>
<line x1="47.50" y1="635.30" x2="50.50" y2="635.30" stroke="#2a2a2a" stroke-width="1.1"/>
<text x="44.70" y="637.76" font-size="6.3" text-anchor="end" fill="#222">750</text>
<line x1="47.50" y1="621.70" x2="50.50" y2="621.70" stroke="#2a2a2a" stroke-width="1.1"/>
<text x="44.70" y="624.16" font-size="6.3" text-anchor="end" fill="#222">1000</text>
<line x1="47.50" y1="608.10" x2="50.50" y2="608.10" stroke="#2a2a2a" stroke-width="1.1"/>
<text x="44.70" y="610.56" font-size="6.3" text-anchor="end" fill="#222">1250</text>
<line x1="47.50" y1="594.50" x2="50.50" y2="594.50" stroke="#2a2a2a" stroke-width="1.1"/>
<text x="44.70" y="596.96" font-size="6.3" text-anchor="end" fill="#222">1500</text>
<rect x="61.10" y="652.71" width="7.75" height="23.39" fill="#000000"/>
<rect x="68.80" y="661.58" width="7.75" height="14.52" fill="#a80c32"/>
<line x1="64.95" y1="652.71" x2="64.95" y2="648.08" stroke="#111" stroke-width="0.9"/>
<line x1="63.45" y1="648.08" x2="66.45" y2="648.08" stroke="#111" stroke-width="1.1"/>
<line x1="72.65" y1="661.58" x2="72.65" y2="657.28" stroke="#111" stroke-width="0.9"/>
<line x1="71.15" y1="657.28" x2="74.15" y2="657.28" stroke="#111" stroke-width="1.1"/>
<rect x="87.20" y="639.60" width="7.75" height="36.50" fill="#000000"/>
<rect x="94.90" y="650.42" width="7.75" height="25.68" fill="#a80c32"/>
<line x1="91.05" y1="639.60" x2="91.05" y2="635.03" stroke="#111" stroke-width="0.9"/>
<line x1="89.55" y1="635.03" x2="92.55" y2="635.03" stroke="#111" stroke-width="1.1"/>
<line x1="98.75" y1="650.42" x2="98.75" y2="645.80" stroke="#111" stroke-width="0.9"/>
<line x1="97.25" y1="645.80" x2="100.25" y2="645.80" stroke="#111" stroke-width="1.1"/>
<rect x="113.00" y="628.77" width="7.75" height="47.33" fill="#000000"/>
<rect x="120.70" y="637.58" width="7.75" height="38.52" fill="#a80c32"/>
<line x1="116.85" y1="628.77" x2="116.85" y2="624.69" stroke="#111" stroke-width="0.9"/>
<line x1="115.35" y1="624.69" x2="118.35" y2="624.69" stroke="#111" stroke-width="1.1"/>
<line x1="124.55" y1="637.58" x2="124.55" y2="631.49" stroke="#111" stroke-width="0.9"/>
<line x1="123.05" y1="631.49" x2="126.05" y2="631.49" stroke="#111" stroke-width="1.1"/>
<rect x="138.80" y="664.51" width="7.75" height="11.59" fill="#000000"/>
<rect x="146.50" y="665.49" width="7.75" height="10.61" fill="#a80c32"/>
<line x1="142.65" y1="664.51" x2="142.65" y2="660.81" stroke="#111" stroke-width="0.9"/>
<line x1="141.15" y1="660.81" x2="144.15" y2="660.81" stroke="#111" stroke-width="1.1"/>
<line x1="150.35" y1="665.49" x2="150.35" y2="660.81" stroke="#111" stroke-width="0.9"/>
<line x1="148.85" y1="660.81" x2="151.85" y2="660.81" stroke="#111" stroke-width="1.1"/>
<line x1="49.80" y1="676.10" x2="165.00" y2="676.10" stroke="#2a2a2a" stroke-width="1.4"/>
<line x1="68.80" y1="676.10" x2="68.80" y2="679.10" stroke="#2a2a2a" stroke-width="1.1"/>
<line x1="94.90" y1="676.10" x2="94.90" y2="679.10" stroke="#2a2a2a" stroke-width="1.1"/>
<line x1="120.70" y1="676.10" x2="120.70" y2="679.10" stroke="#2a2a2a" stroke-width="1.1"/>
<line x1="146.50" y1="676.10" x2="146.50" y2="679.10" stroke="#2a2a2a" stroke-width="1.1"/>
<text x="69.50" y="688.30" font-size="6.4" text-anchor="middle" textLength="21.60" lengthAdjust="spacingAndGlyphs">NO INH</text>
<text x="94.95" y="688.30" font-size="6.4" text-anchor="middle" textLength="24.10" lengthAdjust="spacingAndGlyphs">NU7026</text>
<text x="121.40" y="688.30" font-size="6.4" text-anchor="middle" textLength="16.40" lengthAdjust="spacingAndGlyphs">SCR7</text>
<text x="146.90" y="688.30" font-size="6.4" text-anchor="middle" textLength="12.20" lengthAdjust="spacingAndGlyphs">RI-1</text>
<rect x="124.20" y="587.30" width="12.60" height="3.70" fill="#000000"/>
<text x="139.30" y="591.09" font-size="5.4" fill="#222">RPMI8226</text>
<rect x="124.20" y="594.50" width="12.60" height="3.70" fill="#a80c32"/>
<text x="139.30" y="598.29" font-size="5.4" fill="#222">LR5</text>
<path d="M64.30,646.50 L64.30,646.00 Q64.30,645.50 64.80,645.50 L73.00,645.50 Q73.50,645.50 73.50,646.00 L73.50,646.50" stroke="#222" stroke-width="1.2" fill="none"/>
<text x="69.90" y="642.70" font-size="5.3" text-anchor="middle" fill="#222"><tspan font-style="italic">P</tspan>=0.0039</text>
<path d="M90.30,633.70 L90.30,633.20 Q90.30,632.70 90.80,632.70 L98.90,632.70 Q99.40,632.70 99.40,633.20 L99.40,633.70" stroke="#222" stroke-width="1.2" fill="none"/>
<text x="95.80" y="629.50" font-size="5.3" text-anchor="middle" fill="#222"><tspan font-style="italic">P</tspan>=0.0039</text>
<path d="M65.30,622.40 L65.30,621.90 Q65.30,621.40 65.80,621.40 L91.20,621.40 Q91.70,621.40 91.70,621.90 L91.70,622.40" stroke="#222" stroke-width="1.2" fill="none"/>
<text x="78.50" y="618.70" font-size="5.3" text-anchor="middle" fill="#222"><tspan font-style="italic">P</tspan>=0.0039</text>
<path d="M65.30,613.30 L65.30,612.80 Q65.30,612.30 65.80,612.30 L117.30,612.30 Q117.80,612.30 117.80,612.80 L117.80,613.30" stroke="#222" stroke-width="1.2" fill="none"/>
<text x="91.30" y="609.50" font-size="5.3" text-anchor="middle" fill="#222"><tspan font-style="italic">P</tspan>=0.0039</text>
<path d="M65.30,604.20 L65.30,603.70 Q65.30,603.20 65.80,603.20 L142.80,603.20 Q143.30,603.20 143.30,603.70 L143.30,604.20" stroke="#222" stroke-width="1.2" fill="none"/>
<text x="104.40" y="600.40" font-size="5.3" text-anchor="middle" fill="#222"><tspan font-style="italic">P</tspan>=0.0039</text>
<path d="M115.90,622.40 L115.90,621.90 Q115.90,621.40 116.40,621.40 L125.00,621.40 Q125.50,621.40 125.50,621.90 L125.50,622.40" stroke="#222" stroke-width="1.2" fill="none"/>
<text x="120.40" y="619.60" font-size="5.3" text-anchor="middle" fill="#222"><tspan font-style="italic">P</tspan>=0.0163</text>
<text x="14.10" y="634.20" font-size="8.3" text-anchor="middle" transform="rotate(-90 14.10 634.20)" textLength="80.00" lengthAdjust="spacingAndGlyphs">AUC [(mean Rad51 foci</text>
<text x="24.40" y="634.80" font-size="8.3" text-anchor="middle" transform="rotate(-90 24.40 634.80)" textLength="60.30" lengthAdjust="spacingAndGlyphs">per nucleus)] x h]</text>
<text x="180.10" y="581.00" font-size="11.6" font-weight="bold" fill="#000">N</text>
<text x="277.40" y="580.50" font-size="8.6" text-anchor="middle" textLength="81.40" lengthAdjust="spacingAndGlyphs">Cell lines - Apoptosis</text>
<line x1="220.00" y1="591.90" x2="220.00" y2="677.15" stroke="#2a2a2a" stroke-width="1.4"/>
<line x1="217.00" y1="676.50" x2="220.00" y2="676.50" stroke="#2a2a2a" stroke-width="1.1"/>
<text x="214.20" y="678.96" font-size="6.3" text-anchor="end" fill="#222">0</text>
<line x1="217.00" y1="660.10" x2="220.00" y2="660.10" stroke="#2a2a2a" stroke-width="1.1"/>
<text x="214.20" y="662.56" font-size="6.3" text-anchor="end" fill="#222">20</text>
<line x1="217.00" y1="643.70" x2="220.00" y2="643.70" stroke="#2a2a2a" stroke-width="1.1"/>
<text x="214.20" y="646.16" font-size="6.3" text-anchor="end" fill="#222">40</text>
<line x1="217.00" y1="627.30" x2="220.00" y2="627.30" stroke="#2a2a2a" stroke-width="1.1"/>
<text x="214.20" y="629.76" font-size="6.3" text-anchor="end" fill="#222">60</text>
<line x1="217.00" y1="610.90" x2="220.00" y2="610.90" stroke="#2a2a2a" stroke-width="1.1"/>
<text x="214.20" y="613.36" font-size="6.3" text-anchor="end" fill="#222">80</text>
<line x1="217.00" y1="594.50" x2="220.00" y2="594.50" stroke="#2a2a2a" stroke-width="1.1"/>
<text x="214.20" y="596.96" font-size="6.3" text-anchor="end" fill="#222">100</text>
<rect x="226.10" y="643.21" width="8.35" height="33.29" fill="#000000"/>
<rect x="234.40" y="633.86" width="8.35" height="42.64" fill="#a80c32"/>
<line x1="230.25" y1="643.21" x2="230.25" y2="638.12" stroke="#111" stroke-width="0.9"/>
<line x1="228.75" y1="638.12" x2="231.75" y2="638.12" stroke="#111" stroke-width="1.1"/>
<line x1="238.55" y1="633.86" x2="238.55" y2="628.78" stroke="#111" stroke-width="0.9"/>
<line x1="237.05" y1="628.78" x2="240.05" y2="628.78" stroke="#111" stroke-width="1.1"/>
<rect x="254.90" y="647.31" width="8.35" height="29.19" fill="#000000"/>
<rect x="263.20" y="639.93" width="8.35" height="36.57" fill="#a80c32"/>
<line x1="259.05" y1="647.31" x2="259.05" y2="643.86" stroke="#111" stroke-width="0.9"/>
<line x1="257.55" y1="643.86" x2="260.55" y2="643.86" stroke="#111" stroke-width="1.1"/>
<line x1="267.35" y1="639.93" x2="267.35" y2="635.50" stroke="#111" stroke-width="0.9"/>
<line x1="265.85" y1="635.50" x2="268.85" y2="635.50" stroke="#111" stroke-width="1.1"/>
<rect x="283.40" y="660.10" width="8.35" height="16.40" fill="#000000"/>
<rect x="291.70" y="658.46" width="8.35" height="18.04" fill="#a80c32"/>
<line x1="287.55" y1="660.10" x2="287.55" y2="656.49" stroke="#111" stroke-width="0.9"/>
<line x1="286.05" y1="656.49" x2="289.05" y2="656.49" stroke="#111" stroke-width="1.1"/>
<line x1="295.85" y1="658.46" x2="295.85" y2="655.84" stroke="#111" stroke-width="0.9"/>
<line x1="294.35" y1="655.84" x2="297.35" y2="655.84" stroke="#111" stroke-width="1.1"/>
<rect x="311.50" y="654.20" width="8.35" height="22.30" fill="#000000"/>
<rect x="319.80" y="651.49" width="8.35" height="25.01" fill="#a80c32"/>
<line x1="315.65" y1="654.20" x2="315.65" y2="650.83" stroke="#111" stroke-width="0.9"/>
<line x1="314.15" y1="650.83" x2="317.15" y2="650.83" stroke="#111" stroke-width="1.1"/>
<line x1="323.95" y1="651.49" x2="323.95" y2="648.62" stroke="#111" stroke-width="0.9"/>
<line x1="322.45" y1="648.62" x2="325.45" y2="648.62" stroke="#111" stroke-width="1.1"/>
<line x1="219.30" y1="676.50" x2="334.20" y2="676.50" stroke="#2a2a2a" stroke-width="1.4"/>
<line x1="234.40" y1="676.50" x2="234.40" y2="679.50" stroke="#2a2a2a" stroke-width="1.1"/>
<line x1="263.20" y1="676.50" x2="263.20" y2="679.50" stroke="#2a2a2a" stroke-width="1.1"/>
<line x1="291.70" y1="676.50" x2="291.70" y2="679.50" stroke="#2a2a2a" stroke-width="1.1"/>
<line x1="319.80" y1="676.50" x2="319.80" y2="679.50" stroke="#2a2a2a" stroke-width="1.1"/>
<text x="234.40" y="688.30" font-size="6.4" text-anchor="middle" textLength="22.80" lengthAdjust="spacingAndGlyphs">NO INH</text>
<text x="263.00" y="688.30" font-size="6.4" text-anchor="middle" textLength="24.00" lengthAdjust="spacingAndGlyphs">NU7026</text>
<text x="291.15" y="688.30" font-size="6.4" text-anchor="middle" textLength="16.90" lengthAdjust="spacingAndGlyphs">SCR7</text>
<text x="319.50" y="688.30" font-size="6.4" text-anchor="middle" textLength="12.20" lengthAdjust="spacingAndGlyphs">RI-1</text>
<rect x="288.10" y="615.00" width="12.60" height="3.70" fill="#000000"/>
<text x="303.80" y="618.79" font-size="5.4" fill="#222">RPMI8226</text>
<rect x="288.10" y="622.20" width="12.60" height="3.70" fill="#a80c32"/>
<text x="303.80" y="625.99" font-size="5.4" fill="#222">LR5</text>
<path d="M229.60,627.30 L229.60,626.80 Q229.60,626.30 230.10,626.30 L238.30,626.30 Q238.80,626.30 238.80,626.80 L238.80,627.30" stroke="#222" stroke-width="1.2" fill="none"/>
<text x="236.00" y="623.40" font-size="5.3" text-anchor="middle" fill="#222"><tspan font-style="italic">P</tspan>=0.0104</text>
<path d="M258.50,634.50 L258.50,634.00 Q258.50,633.50 259.00,633.50 L267.20,633.50 Q267.70,633.50 267.70,634.00 L267.70,634.50" stroke="#222" stroke-width="1.2" fill="none"/>
<text x="265.70" y="631.00" font-size="5.3" text-anchor="middle" fill="#222"><tspan font-style="italic">P</tspan>=0.0250</text>
<path d="M238.30,617.80 L238.30,617.30 Q238.30,616.80 238.80,616.80 L267.20,616.80 Q267.70,616.80 267.70,617.30 L267.70,617.80" stroke="#222" stroke-width="1.2" fill="none"/>
<text x="253.60" y="614.50" font-size="5.3" text-anchor="middle" fill="#222"><tspan font-style="italic">P</tspan>=0.0250</text>
<path d="M238.30,610.90 L238.30,610.40 Q238.30,609.90 238.80,609.90 L292.50,609.90 Q293.00,609.90 293.00,610.40 L293.00,610.90" stroke="#222" stroke-width="1.2" fill="none"/>
<text x="266.50" y="607.60" font-size="5.3" text-anchor="middle" fill="#222"><tspan font-style="italic">P</tspan>=0.0039</text>
<path d="M238.30,603.20 L238.30,602.70 Q238.30,602.20 238.80,602.20 L322.20,602.20 Q322.70,602.20 322.70,602.70 L322.70,603.20" stroke="#222" stroke-width="1.2" fill="none"/>
<text x="281.00" y="600.10" font-size="5.3" text-anchor="middle" fill="#222"><tspan font-style="italic">P</tspan>=0.0039</text>
<text x="186.90" y="634.20" font-size="8.5" text-anchor="middle" transform="rotate(-90 186.90 634.20)" textLength="85.00" lengthAdjust="spacingAndGlyphs">Melphalan concentration</text>
<text x="197.40" y="634.60" font-size="8.5" text-anchor="middle" transform="rotate(-90 197.40 634.60)" textLength="94.20" lengthAdjust="spacingAndGlyphs">inducing apoptosis (µg/ml)</text>
<text x="349.00" y="580.60" font-size="11.6" font-weight="bold" fill="#000">O</text>
<text x="446.85" y="580.00" font-size="8.6" text-anchor="middle" textLength="69.10" lengthAdjust="spacingAndGlyphs">Cell lines - γH2Ax</text>
<line x1="390.30" y1="595.00" x2="390.30" y2="676.95" stroke="#2a2a2a" stroke-width="1.4"/>
<line x1="387.30" y1="666.90" x2="390.30" y2="666.90" stroke="#2a2a2a" stroke-width="1.1"/>
<text x="384.50" y="669.36" font-size="6.3" text-anchor="end" fill="#222">20</text>
<line x1="387.30" y1="647.90" x2="390.30" y2="647.90" stroke="#2a2a2a" stroke-width="1.1"/>
<text x="384.50" y="650.36" font-size="6.3" text-anchor="end" fill="#222">30</text>
<line x1="387.30" y1="628.90" x2="390.30" y2="628.90" stroke="#2a2a2a" stroke-width="1.1"/>
<text x="384.50" y="631.36" font-size="6.3" text-anchor="end" fill="#222">40</text>
<line x1="387.30" y1="609.90" x2="390.30" y2="609.90" stroke="#2a2a2a" stroke-width="1.1"/>
<text x="384.50" y="612.36" font-size="6.3" text-anchor="end" fill="#222">50</text>
<line x1="389.60" y1="676.30" x2="506.50" y2="676.30" stroke="#2a2a2a" stroke-width="1.4"/>
<line x1="398.50" y1="676.30" x2="398.50" y2="679.30" stroke="#2a2a2a" stroke-width="1.1"/>
<text x="398.50" y="688.30" font-size="6.3" text-anchor="middle" fill="#222">250</text>
<line x1="419.45" y1="676.30" x2="419.45" y2="679.30" stroke="#2a2a2a" stroke-width="1.1"/>
<text x="419.45" y="688.30" font-size="6.3" text-anchor="middle" fill="#222">500</text>
<line x1="440.40" y1="676.30" x2="440.40" y2="679.30" stroke="#2a2a2a" stroke-width="1.1"/>
<text x="440.40" y="688.30" font-size="6.3" text-anchor="middle" fill="#222">750</text>
<line x1="461.35" y1="676.30" x2="461.35" y2="679.30" stroke="#2a2a2a" stroke-width="1.1"/>
<text x="461.35" y="688.30" font-size="6.3" text-anchor="middle" fill="#222">1000</text>
<line x1="482.30" y1="676.30" x2="482.30" y2="679.30" stroke="#2a2a2a" stroke-width="1.1"/>
<text x="482.30" y="688.30" font-size="6.3" text-anchor="middle" fill="#222">1250</text>
<line x1="503.25" y1="676.30" x2="503.25" y2="679.30" stroke="#2a2a2a" stroke-width="1.1"/>
<text x="503.25" y="688.30" font-size="6.3" text-anchor="middle" fill="#222">1500</text>
<circle cx="401.18" cy="605.53" r="1.9" fill="#000"/>
<circle cx="417.77" cy="625.86" r="1.9" fill="#000"/>
<circle cx="424.65" cy="620.16" r="1.9" fill="#000"/>
<circle cx="429.25" cy="644.48" r="1.9" fill="#000"/>
<circle cx="440.90" cy="637.07" r="1.9" fill="#000"/>
<circle cx="441.66" cy="652.27" r="1.9" fill="#000"/>
<circle cx="490.09" cy="662.15" r="1.9" fill="#000"/>
<circle cx="496.38" cy="666.52" r="1.9" fill="#000"/>
<line x1="401.20" y1="615.80" x2="495.70" y2="670.10" stroke="#000" stroke-width="1.5"/>
<text x="470.6" y="615.0" font-size="7.4" font-style="italic" fill="#222">r</text>
<text x="473.4" y="611.6" font-size="4.2" fill="#222">2</text>
<text x="475.2" y="615.0" font-size="4.9" fill="#222" textLength="16.0" lengthAdjust="spacingAndGlyphs">=0.824</text>
<text x="356.70" y="636.30" font-size="8.5" text-anchor="middle" transform="rotate(-90 356.70 636.30)" textLength="83.30" lengthAdjust="spacingAndGlyphs">Melphalan concentration</text>
<text x="367.00" y="636.00" font-size="8.5" text-anchor="middle" transform="rotate(-90 367.00 636.00)" textLength="92.00" lengthAdjust="spacingAndGlyphs">inducing apoptosis (µg/ml)</text>
<text x="446.95" y="700.60" font-size="8.6" text-anchor="middle" textLength="94.70" lengthAdjust="spacingAndGlyphs">AUC [(mean γH2Ax foci per</text>
<text x="446.90" y="710.50" font-size="8.6" text-anchor="middle" textLength="45.40" lengthAdjust="spacingAndGlyphs">nucleus) x h]</text>
<rect x="0.5" y="0.5" width="519" height="719" fill="none" stroke="#111" stroke-width="1.2"/>
</svg>
</body></html>
